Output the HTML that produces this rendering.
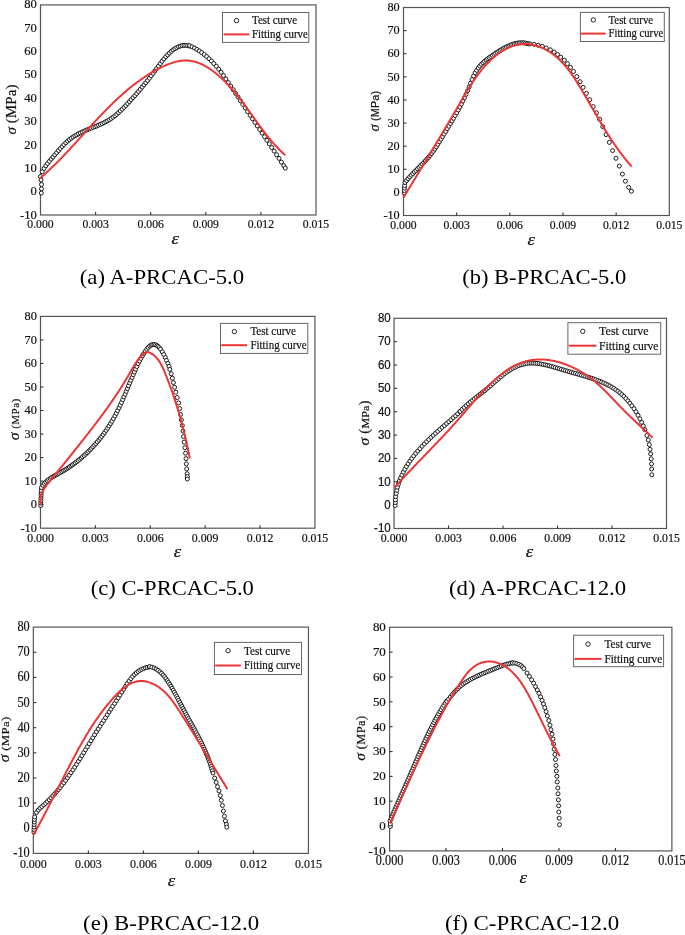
<!DOCTYPE html>
<html><head><meta charset="utf-8"><style>
html,body{margin:0;padding:0;background:#fff;width:685px;height:935px;overflow:hidden}
svg{display:block;will-change:transform}
text{fill:#111;stroke:#111;stroke-width:0.2px}
.cap{stroke:none;fill:#000}
</style></head><body>
<svg width="685" height="935" viewBox="0 0 685 935">
<rect width="685" height="935" fill="#fff"/>
<rect x="40.5" y="4.9" width="275.5" height="210.1" fill="none" stroke="#555" stroke-width="1.2"/>
<line x1="95.6" y1="215" x2="95.6" y2="212" stroke="#333" stroke-width="1.1"/>
<line x1="150.7" y1="215" x2="150.7" y2="212" stroke="#333" stroke-width="1.1"/>
<line x1="205.8" y1="215" x2="205.8" y2="212" stroke="#333" stroke-width="1.1"/>
<line x1="260.9" y1="215" x2="260.9" y2="212" stroke="#333" stroke-width="1.1"/>
<text transform="translate(36.8,218.55) scale(1.0,1)" text-anchor="end" font-family='"Liberation Serif", serif' font-size="12.6">-10</text>
<text transform="translate(36.8,195.21) scale(1.0,1)" text-anchor="end" font-family='"Liberation Serif", serif' font-size="12.6">0</text>
<text transform="translate(36.8,171.86) scale(1.0,1)" text-anchor="end" font-family='"Liberation Serif", serif' font-size="12.6">10</text>
<text transform="translate(36.8,148.52) scale(1.0,1)" text-anchor="end" font-family='"Liberation Serif", serif' font-size="12.6">20</text>
<text transform="translate(36.8,125.17) scale(1.0,1)" text-anchor="end" font-family='"Liberation Serif", serif' font-size="12.6">30</text>
<text transform="translate(36.8,101.83) scale(1.0,1)" text-anchor="end" font-family='"Liberation Serif", serif' font-size="12.6">40</text>
<text transform="translate(36.8,78.49) scale(1.0,1)" text-anchor="end" font-family='"Liberation Serif", serif' font-size="12.6">50</text>
<text transform="translate(36.8,55.14) scale(1.0,1)" text-anchor="end" font-family='"Liberation Serif", serif' font-size="12.6">60</text>
<text transform="translate(36.8,31.8) scale(1.0,1)" text-anchor="end" font-family='"Liberation Serif", serif' font-size="12.6">70</text>
<text transform="translate(36.8,8.45) scale(1.0,1)" text-anchor="end" font-family='"Liberation Serif", serif' font-size="12.6">80</text>
<text transform="translate(40.5,228.2) scale(0.93,1)" text-anchor="middle" font-family='"Liberation Serif", serif' font-size="12.6">0.000</text>
<text transform="translate(95.6,228.2) scale(0.93,1)" text-anchor="middle" font-family='"Liberation Serif", serif' font-size="12.6">0.003</text>
<text transform="translate(150.7,228.2) scale(0.93,1)" text-anchor="middle" font-family='"Liberation Serif", serif' font-size="12.6">0.006</text>
<text transform="translate(205.8,228.2) scale(0.93,1)" text-anchor="middle" font-family='"Liberation Serif", serif' font-size="12.6">0.009</text>
<text transform="translate(260.9,228.2) scale(0.93,1)" text-anchor="middle" font-family='"Liberation Serif", serif' font-size="12.6">0.012</text>
<text transform="translate(316,228.2) scale(0.93,1)" text-anchor="middle" font-family='"Liberation Serif", serif' font-size="12.6">0.015</text>
<text transform="translate(171.4,244.3) scale(1.18,1)" font-family='"Liberation Serif", serif' font-style="italic" font-size="16">ε</text>
<text transform="translate(15.8,134.6) scale(1.0,1) rotate(-90)" textLength="50.1" lengthAdjust="spacing" xml:space="preserve"><tspan font-family='"Liberation Serif", serif' font-size="15" font-style="italic">σ</tspan><tspan font-family='"Liberation Serif", serif' font-size="15"> (MPa)</tspan></text>
<g fill="#fff" stroke="#111" stroke-width="0.95"><circle cx="41.3" cy="193.0" r="2.0"/><circle cx="41.5" cy="188.8" r="2.0"/><circle cx="41.5" cy="184.5" r="2.0"/><circle cx="41.0" cy="180.0" r="2.0"/><circle cx="40.4" cy="176.5" r="2.0"/><circle cx="42.2" cy="171.7" r="2.0"/><circle cx="44.0" cy="168.5" r="2.0"/><circle cx="45.8" cy="165.8" r="2.0"/><circle cx="47.6" cy="163.5" r="2.0"/><circle cx="49.4" cy="161.3" r="2.0"/><circle cx="51.2" cy="159.1" r="2.0"/><circle cx="53.0" cy="157.0" r="2.0"/><circle cx="54.8" cy="154.8" r="2.0"/><circle cx="56.7" cy="152.7" r="2.0"/><circle cx="58.5" cy="150.5" r="2.0"/><circle cx="60.3" cy="148.5" r="2.0"/><circle cx="62.1" cy="146.5" r="2.0"/><circle cx="63.9" cy="144.6" r="2.0"/><circle cx="65.8" cy="142.8" r="2.0"/><circle cx="67.6" cy="141.1" r="2.0"/><circle cx="69.4" cy="139.6" r="2.0"/><circle cx="71.2" cy="138.2" r="2.0"/><circle cx="73.0" cy="137.0" r="2.0"/><circle cx="74.9" cy="135.8" r="2.0"/><circle cx="76.7" cy="134.8" r="2.0"/><circle cx="78.5" cy="133.8" r="2.0"/><circle cx="80.3" cy="132.9" r="2.0"/><circle cx="82.1" cy="132.0" r="2.0"/><circle cx="84.0" cy="131.2" r="2.0"/><circle cx="85.8" cy="130.4" r="2.0"/><circle cx="87.6" cy="129.6" r="2.0"/><circle cx="89.4" cy="128.9" r="2.0"/><circle cx="91.2" cy="128.2" r="2.0"/><circle cx="93.1" cy="127.4" r="2.0"/><circle cx="94.9" cy="126.7" r="2.0"/><circle cx="96.7" cy="126.0" r="2.0"/><circle cx="98.5" cy="125.2" r="2.0"/><circle cx="100.3" cy="124.4" r="2.0"/><circle cx="102.1" cy="123.6" r="2.0"/><circle cx="104.0" cy="122.7" r="2.0"/><circle cx="105.8" cy="121.7" r="2.0"/><circle cx="107.6" cy="120.8" r="2.0"/><circle cx="109.4" cy="119.7" r="2.0"/><circle cx="111.2" cy="118.5" r="2.0"/><circle cx="113.0" cy="117.2" r="2.0"/><circle cx="114.9" cy="115.8" r="2.0"/><circle cx="116.7" cy="114.3" r="2.0"/><circle cx="118.5" cy="112.7" r="2.0"/><circle cx="120.3" cy="111.0" r="2.0"/><circle cx="122.2" cy="109.2" r="2.0"/><circle cx="124.0" cy="107.4" r="2.0"/><circle cx="125.8" cy="105.5" r="2.0"/><circle cx="127.6" cy="103.6" r="2.0"/><circle cx="129.4" cy="101.6" r="2.0"/><circle cx="131.2" cy="99.6" r="2.0"/><circle cx="133.0" cy="97.6" r="2.0"/><circle cx="134.9" cy="95.6" r="2.0"/><circle cx="136.7" cy="93.5" r="2.0"/><circle cx="138.5" cy="91.4" r="2.0"/><circle cx="140.3" cy="89.3" r="2.0"/><circle cx="142.1" cy="87.1" r="2.0"/><circle cx="143.9" cy="84.9" r="2.0"/><circle cx="145.8" cy="82.7" r="2.0"/><circle cx="147.6" cy="80.5" r="2.0"/><circle cx="149.4" cy="78.2" r="2.0"/><circle cx="151.2" cy="75.8" r="2.0"/><circle cx="153.0" cy="73.4" r="2.0"/><circle cx="154.8" cy="71.0" r="2.0"/><circle cx="156.7" cy="68.5" r="2.0"/><circle cx="158.5" cy="66.1" r="2.0"/><circle cx="160.3" cy="63.6" r="2.0"/><circle cx="162.1" cy="61.2" r="2.0"/><circle cx="163.9" cy="58.9" r="2.0"/><circle cx="165.8" cy="56.8" r="2.0"/><circle cx="167.6" cy="54.9" r="2.0"/><circle cx="169.4" cy="53.1" r="2.0"/><circle cx="171.2" cy="51.4" r="2.0"/><circle cx="173.0" cy="49.9" r="2.0"/><circle cx="174.9" cy="48.7" r="2.0"/><circle cx="176.7" cy="47.6" r="2.0"/><circle cx="178.5" cy="46.7" r="2.0"/><circle cx="180.3" cy="46.1" r="2.0"/><circle cx="182.1" cy="45.6" r="2.0"/><circle cx="184.0" cy="45.4" r="2.0"/><circle cx="185.8" cy="45.4" r="2.0"/><circle cx="187.6" cy="45.6" r="2.0"/><circle cx="189.4" cy="46.0" r="2.0"/><circle cx="189.6" cy="45.7" r="2.0"/><circle cx="192.0" cy="46.8" r="2.0"/><circle cx="194.4" cy="48.0" r="2.0"/><circle cx="196.9" cy="49.4" r="2.0"/><circle cx="199.3" cy="50.9" r="2.0"/><circle cx="201.7" cy="52.6" r="2.0"/><circle cx="204.2" cy="54.5" r="2.0"/><circle cx="206.6" cy="56.5" r="2.0"/><circle cx="209.0" cy="58.7" r="2.0"/><circle cx="211.4" cy="61.0" r="2.0"/><circle cx="213.8" cy="63.6" r="2.0"/><circle cx="216.3" cy="66.3" r="2.0"/><circle cx="218.7" cy="69.2" r="2.0"/><circle cx="221.1" cy="72.3" r="2.0"/><circle cx="223.5" cy="75.6" r="2.0"/><circle cx="225.9" cy="79.0" r="2.0"/><circle cx="228.3" cy="82.5" r="2.0"/><circle cx="230.7" cy="86.1" r="2.0"/><circle cx="233.2" cy="89.7" r="2.0"/><circle cx="235.6" cy="93.4" r="2.0"/><circle cx="238.0" cy="97.0" r="2.0"/><circle cx="240.4" cy="100.7" r="2.0"/><circle cx="242.8" cy="104.3" r="2.0"/><circle cx="245.2" cy="107.9" r="2.0"/><circle cx="247.6" cy="111.6" r="2.0"/><circle cx="250.1" cy="115.2" r="2.0"/><circle cx="252.5" cy="118.8" r="2.0"/><circle cx="254.9" cy="122.4" r="2.0"/><circle cx="257.3" cy="125.9" r="2.0"/><circle cx="259.7" cy="129.5" r="2.0"/><circle cx="262.1" cy="133.1" r="2.0"/><circle cx="264.5" cy="136.7" r="2.0"/><circle cx="266.9" cy="140.3" r="2.0"/><circle cx="269.3" cy="143.9" r="2.0"/><circle cx="271.7" cy="147.5" r="2.0"/><circle cx="274.1" cy="151.1" r="2.0"/><circle cx="276.6" cy="154.8" r="2.0"/><circle cx="279.0" cy="158.4" r="2.0"/><circle cx="281.4" cy="162.1" r="2.0"/><circle cx="283.8" cy="165.7" r="2.0"/><circle cx="285.3" cy="168.1" r="2.0"/></g>
<path d="M39.8 178.4 L40.4 177.9 L41.0 177.4 L41.6 176.9 L42.3 176.3 L42.9 175.8 L43.5 175.3 L44.1 174.7 L44.7 174.2 L45.3 173.7 L45.8 173.1 L46.4 172.6 L47.0 172.0 L47.6 171.5 L48.2 171.0 L48.8 170.4 L49.4 169.9 L50.0 169.3 L50.5 168.8 L51.1 168.2 L51.7 167.6 L52.3 167.1 L52.9 166.5 L53.4 166.0 L54.0 165.4 L54.6 164.9 L55.2 164.3 L55.7 163.7 L56.3 163.2 L56.9 162.6 L57.4 162.0 L58.0 161.5 L58.6 160.9 L59.1 160.3 L59.7 159.7 L60.2 159.2 L60.8 158.6 L61.4 158.0 L61.9 157.4 L62.5 156.9 L63.0 156.3 L63.6 155.7 L64.1 155.1 L64.7 154.5 L65.2 154.0 L65.8 153.4 L66.3 152.8 L66.9 152.2 L67.4 151.6 L68.0 151.0 L68.5 150.5 L69.1 149.9 L69.6 149.3 L70.2 148.7 L70.7 148.1 L71.3 147.5 L71.8 146.9 L72.3 146.3 L72.9 145.7 L73.4 145.2 L74.0 144.6 L74.5 144.0 L75.1 143.4 L75.6 142.8 L76.1 142.2 L76.7 141.6 L77.2 141.0 L77.8 140.4 L78.3 139.8 L78.8 139.2 L79.4 138.6 L79.9 138.0 L80.5 137.4 L81.0 136.9 L81.5 136.3 L82.1 135.7 L82.6 135.1 L83.2 134.5 L83.7 133.9 L84.2 133.3 L84.8 132.7 L85.3 132.1 L85.9 131.5 L86.4 130.9 L86.9 130.3 L87.5 129.7 L88.0 129.1 L88.6 128.5 L89.1 127.9 L89.6 127.4 L90.2 126.8 L90.7 126.2 L91.3 125.6 L91.8 125.0 L92.3 124.4 L92.9 123.8 L93.4 123.2 L94.0 122.6 L94.5 122.0 L95.1 121.5 L95.6 120.9 L96.2 120.3 L96.7 119.7 L97.3 119.1 L97.8 118.5 L98.4 117.9 L98.9 117.4 L99.5 116.8 L100.0 116.2 L100.6 115.6 L101.1 115.0 L101.7 114.4 L102.2 113.9 L102.8 113.3 L103.3 112.7 L103.9 112.1 L104.4 111.6 L105.0 111.0 L105.6 110.4 L106.1 109.8 L106.7 109.3 L107.3 108.7 L107.8 108.1 L108.4 107.6 L109.0 107.0 L109.5 106.4 L110.1 105.9 L110.7 105.3 L111.2 104.7 L111.8 104.2 L112.4 103.6 L113.0 103.0 L113.5 102.5 L114.1 101.9 L114.7 101.4 L115.3 100.8 L115.9 100.3 L116.4 99.7 L117.0 99.2 L117.6 98.6 L118.2 98.1 L118.8 97.5 L119.4 97.0 L120.0 96.5 L120.6 95.9 L121.2 95.4 L121.8 94.9 L122.4 94.3 L123.0 93.8 L123.6 93.3 L124.2 92.7 L124.8 92.2 L125.4 91.7 L126.0 91.2 L126.6 90.6 L127.2 90.1 L127.8 89.6 L128.4 89.1 L129.1 88.6 L129.7 88.1 L130.3 87.6 L130.9 87.1 L131.6 86.6 L132.2 86.1 L132.8 85.6 L133.4 85.1 L134.1 84.6 L134.7 84.1 L135.4 83.6 L136.0 83.1 L136.6 82.6 L137.3 82.2 L137.9 81.7 L138.6 81.2 L139.2 80.7 L139.9 80.3 L140.5 79.8 L141.2 79.3 L141.8 78.9 L142.5 78.4 L143.2 78.0 L143.8 77.5 L144.5 77.1 L145.2 76.6 L145.8 76.2 L146.5 75.8 L147.2 75.3 L147.9 74.9 L148.5 74.5 L149.2 74.0 L149.9 73.6 L150.6 73.2 L151.3 72.8 L152.0 72.4 L152.7 72.0 L153.3 71.6 L154.0 71.2 L154.7 70.8 L155.4 70.4 L156.1 70.0 L156.8 69.6 L157.6 69.2 L158.3 68.9 L159.0 68.5 L159.7 68.1 L160.4 67.8 L161.1 67.4 L161.8 67.1 L162.6 66.7 L163.3 66.4 L164.0 66.0 L164.8 65.7 L165.5 65.4 L166.2 65.1 L167.0 64.8 L167.7 64.5 L168.5 64.2 L169.2 63.9 L170.0 63.6 L170.7 63.3 L171.5 63.1 L172.2 62.8 L173.0 62.6 L173.8 62.4 L174.5 62.1 L175.3 61.9 L176.1 61.7 L176.9 61.6 L177.7 61.4 L178.4 61.2 L179.2 61.1 L180.0 61.0 L180.8 60.8 L181.6 60.7 L182.4 60.7 L183.2 60.6 L184.0 60.5 L184.8 60.5 L185.6 60.5 L186.4 60.5 L187.2 60.5 L188.0 60.6 L188.8 60.6 L189.6 60.7 L190.4 60.8 L191.2 60.9 L192.0 61.1 L192.8 61.2 L193.6 61.4 L194.3 61.6 L195.1 61.8 L195.9 62.0 L196.7 62.3 L197.4 62.5 L198.2 62.8 L198.9 63.1 L199.7 63.4 L200.4 63.7 L201.1 64.0 L201.9 64.3 L202.6 64.7 L203.3 65.0 L204.0 65.4 L204.7 65.8 L205.4 66.2 L206.1 66.6 L206.8 67.0 L207.5 67.4 L208.2 67.8 L208.9 68.2 L209.5 68.7 L210.2 69.1 L210.9 69.6 L211.5 70.0 L212.2 70.5 L212.8 71.0 L213.5 71.5 L214.1 72.0 L214.7 72.4 L215.4 72.9 L216.0 73.4 L216.6 74.0 L217.2 74.5 L217.8 75.0 L218.5 75.5 L219.1 76.0 L219.7 76.6 L220.3 77.1 L220.9 77.6 L221.4 78.2 L222.0 78.7 L222.6 79.3 L223.2 79.8 L223.8 80.4 L224.3 81.0 L224.9 81.5 L225.5 82.1 L226.0 82.7 L226.6 83.2 L227.2 83.8 L227.7 84.4 L228.3 85.0 L228.8 85.6 L229.4 86.1 L229.9 86.7 L230.4 87.3 L231.0 87.9 L231.5 88.5 L232.0 89.1 L232.6 89.7 L233.1 90.3 L233.6 91.0 L234.1 91.6 L234.6 92.2 L235.2 92.8 L235.7 93.4 L236.2 94.0 L236.7 94.7 L237.2 95.3 L237.7 95.9 L238.2 96.5 L238.7 97.2 L239.2 97.8 L239.7 98.4 L240.2 99.1 L240.7 99.7 L241.1 100.3 L241.6 101.0 L242.1 101.6 L242.6 102.2 L243.1 102.9 L243.6 103.5 L244.0 104.2 L244.5 104.8 L245.0 105.5 L245.5 106.1 L245.9 106.8 L246.4 107.4 L246.9 108.1 L247.4 108.7 L247.8 109.4 L248.3 110.0 L248.8 110.7 L249.2 111.3 L249.7 112.0 L250.2 112.6 L250.6 113.3 L251.1 113.9 L251.6 114.6 L252.0 115.2 L252.5 115.9 L253.0 116.5 L253.4 117.2 L253.9 117.8 L254.4 118.5 L254.8 119.1 L255.3 119.8 L255.7 120.5 L256.2 121.1 L256.7 121.8 L257.1 122.4 L257.6 123.1 L258.1 123.7 L258.6 124.4 L259.0 125.0 L259.5 125.7 L260.0 126.3 L260.4 127.0 L260.9 127.6 L261.4 128.2 L261.9 128.9 L262.4 129.5 L262.8 130.2 L263.3 130.8 L263.8 131.5 L264.3 132.1 L264.8 132.7 L265.3 133.4 L265.8 134.0 L266.2 134.6 L266.7 135.3 L267.2 135.9 L267.7 136.5 L268.2 137.1 L268.7 137.8 L269.3 138.4 L269.8 139.0 L270.3 139.6 L270.8 140.2 L271.3 140.9 L271.8 141.5 L272.4 142.1 L272.9 142.7 L273.4 143.3 L273.9 143.9 L274.5 144.5 L275.0 145.1 L275.6 145.7 L276.1 146.3 L276.6 146.8 L277.2 147.4 L277.8 148.0 L278.3 148.6 L278.9 149.2 L279.4 149.7 L280.0 150.3 L280.6 150.9 L281.2 151.4 L281.7 152.0 L282.3 152.5 L282.9 153.1 L283.5 153.6 L284.1 154.1 L284.7 154.7 L285.3 155.2" fill="none" stroke="#ee3535" stroke-width="2.0" stroke-linejoin="round" stroke-linecap="butt"/>
<rect x="222.5" y="12.5" width="86.3" height="29.9" fill="#fff" stroke="#666" stroke-width="1"/>
<circle cx="236.5" cy="20.6" r="2.2" fill="#fff" stroke="#111" stroke-width="0.9"/>
<line x1="223.6" y1="34.4" x2="249.3" y2="34.4" stroke="#ee3535" stroke-width="2"/>
<text x="252" y="24.3" font-family='"Liberation Serif", serif' font-size="12.3" textLength="45" lengthAdjust="spacingAndGlyphs">Test curve</text>
<text x="252" y="37.9" font-family='"Liberation Serif", serif' font-size="12.3" textLength="55.8" lengthAdjust="spacingAndGlyphs">Fitting curve</text>
<text class="cap" x="79.7" y="283.7" font-family='"Liberation Serif", serif' font-size="22" textLength="164.5" lengthAdjust="spacingAndGlyphs">(a) A-PRCAC-5.0</text>
<rect x="403.5" y="7.5" width="265.8" height="208" fill="none" stroke="#555" stroke-width="1.2"/>
<line x1="456.66" y1="215.5" x2="456.66" y2="212.5" stroke="#333" stroke-width="1.1"/>
<line x1="509.82" y1="215.5" x2="509.82" y2="212.5" stroke="#333" stroke-width="1.1"/>
<line x1="562.98" y1="215.5" x2="562.98" y2="212.5" stroke="#333" stroke-width="1.1"/>
<line x1="616.14" y1="215.5" x2="616.14" y2="212.5" stroke="#333" stroke-width="1.1"/>
<line x1="403.5" y1="192.39" x2="406.5" y2="192.39" stroke="#333" stroke-width="1.1"/>
<line x1="403.5" y1="169.28" x2="406.5" y2="169.28" stroke="#333" stroke-width="1.1"/>
<line x1="403.5" y1="146.17" x2="406.5" y2="146.17" stroke="#333" stroke-width="1.1"/>
<line x1="403.5" y1="123.06" x2="406.5" y2="123.06" stroke="#333" stroke-width="1.1"/>
<line x1="403.5" y1="99.94" x2="406.5" y2="99.94" stroke="#333" stroke-width="1.1"/>
<line x1="403.5" y1="76.83" x2="406.5" y2="76.83" stroke="#333" stroke-width="1.1"/>
<line x1="403.5" y1="53.72" x2="406.5" y2="53.72" stroke="#333" stroke-width="1.1"/>
<line x1="403.5" y1="30.61" x2="406.5" y2="30.61" stroke="#333" stroke-width="1.1"/>
<text transform="translate(399.7,219.19) scale(0.94,1)" text-anchor="end" font-family='"Liberation Serif", serif' font-size="13.0">-10</text>
<text transform="translate(399.7,196.08) scale(0.94,1)" text-anchor="end" font-family='"Liberation Serif", serif' font-size="13.0">0</text>
<text transform="translate(399.7,172.97) scale(0.94,1)" text-anchor="end" font-family='"Liberation Serif", serif' font-size="13.0">10</text>
<text transform="translate(399.7,149.85) scale(0.94,1)" text-anchor="end" font-family='"Liberation Serif", serif' font-size="13.0">20</text>
<text transform="translate(399.7,126.74) scale(0.94,1)" text-anchor="end" font-family='"Liberation Serif", serif' font-size="13.0">30</text>
<text transform="translate(399.7,103.63) scale(0.94,1)" text-anchor="end" font-family='"Liberation Serif", serif' font-size="13.0">40</text>
<text transform="translate(399.7,80.52) scale(0.94,1)" text-anchor="end" font-family='"Liberation Serif", serif' font-size="13.0">50</text>
<text transform="translate(399.7,57.41) scale(0.94,1)" text-anchor="end" font-family='"Liberation Serif", serif' font-size="13.0">60</text>
<text transform="translate(399.7,34.3) scale(0.94,1)" text-anchor="end" font-family='"Liberation Serif", serif' font-size="13.0">70</text>
<text transform="translate(399.7,11.19) scale(0.94,1)" text-anchor="end" font-family='"Liberation Serif", serif' font-size="13.0">80</text>
<text transform="translate(403.5,228.8) scale(0.95,1)" text-anchor="middle" font-family='"Liberation Serif", serif' font-size="12.3">0.000</text>
<text transform="translate(456.66,228.8) scale(0.95,1)" text-anchor="middle" font-family='"Liberation Serif", serif' font-size="12.3">0.003</text>
<text transform="translate(509.82,228.8) scale(0.95,1)" text-anchor="middle" font-family='"Liberation Serif", serif' font-size="12.3">0.006</text>
<text transform="translate(562.98,228.8) scale(0.95,1)" text-anchor="middle" font-family='"Liberation Serif", serif' font-size="12.3">0.009</text>
<text transform="translate(616.14,228.8) scale(0.95,1)" text-anchor="middle" font-family='"Liberation Serif", serif' font-size="12.3">0.012</text>
<text transform="translate(669.3,228.8) scale(0.95,1)" text-anchor="middle" font-family='"Liberation Serif", serif' font-size="12.3">0.015</text>
<text transform="translate(527.5,244.7) scale(1.18,1)" font-family='"Liberation Serif", serif' font-style="italic" font-size="16">ε</text>
<text transform="translate(379.2,131.5) scale(0.94,1) rotate(-90)" textLength="40.6" lengthAdjust="spacing" xml:space="preserve"><tspan font-family='"Liberation Serif", serif' font-size="14.5" font-style="italic">σ</tspan><tspan font-family='"Liberation Sans", sans-serif' font-size="10.8"> (MPa)</tspan></text>
<g fill="#fff" stroke="#111" stroke-width="0.95"><circle cx="404.2" cy="193.0" r="2.0"/><circle cx="404.3" cy="190.5" r="2.0"/><circle cx="404.4" cy="188.0" r="2.0"/><circle cx="404.6" cy="185.5" r="2.0"/><circle cx="405.0" cy="182.5" r="2.0"/><circle cx="406.6" cy="180.5" r="2.0"/><circle cx="408.1" cy="178.6" r="2.0"/><circle cx="409.7" cy="176.9" r="2.0"/><circle cx="411.3" cy="175.2" r="2.0"/><circle cx="412.8" cy="173.6" r="2.0"/><circle cx="414.4" cy="171.9" r="2.0"/><circle cx="415.9" cy="170.4" r="2.0"/><circle cx="417.5" cy="168.8" r="2.0"/><circle cx="419.1" cy="167.3" r="2.0"/><circle cx="420.6" cy="165.7" r="2.0"/><circle cx="422.2" cy="164.2" r="2.0"/><circle cx="423.8" cy="162.6" r="2.0"/><circle cx="425.3" cy="160.9" r="2.0"/><circle cx="426.9" cy="159.2" r="2.0"/><circle cx="428.5" cy="157.4" r="2.0"/><circle cx="430.0" cy="155.5" r="2.0"/><circle cx="431.6" cy="153.5" r="2.0"/><circle cx="433.2" cy="151.3" r="2.0"/><circle cx="434.7" cy="149.1" r="2.0"/><circle cx="436.3" cy="146.8" r="2.0"/><circle cx="437.8" cy="144.3" r="2.0"/><circle cx="439.4" cy="141.8" r="2.0"/><circle cx="441.0" cy="139.3" r="2.0"/><circle cx="442.5" cy="136.7" r="2.0"/><circle cx="444.1" cy="134.1" r="2.0"/><circle cx="445.7" cy="131.5" r="2.0"/><circle cx="447.3" cy="128.8" r="2.0"/><circle cx="448.8" cy="126.2" r="2.0"/><circle cx="450.4" cy="123.6" r="2.0"/><circle cx="452.0" cy="121.0" r="2.0"/><circle cx="453.5" cy="118.3" r="2.0"/><circle cx="455.1" cy="115.5" r="2.0"/><circle cx="456.7" cy="112.8" r="2.0"/><circle cx="458.2" cy="110.0" r="2.0"/><circle cx="459.8" cy="107.1" r="2.0"/><circle cx="461.3" cy="104.1" r="2.0"/><circle cx="462.9" cy="101.0" r="2.0"/><circle cx="464.4" cy="97.7" r="2.0"/><circle cx="466.0" cy="94.3" r="2.0"/><circle cx="467.6" cy="90.7" r="2.0"/><circle cx="469.1" cy="87.0" r="2.0"/><circle cx="470.5" cy="83.2" r="2.0"/><circle cx="472.0" cy="79.5" r="2.0"/><circle cx="473.6" cy="76.0" r="2.0"/><circle cx="475.1" cy="72.9" r="2.0"/><circle cx="476.7" cy="70.3" r="2.0"/><circle cx="478.3" cy="68.0" r="2.0"/><circle cx="479.8" cy="66.1" r="2.0"/><circle cx="481.4" cy="64.3" r="2.0"/><circle cx="483.0" cy="62.8" r="2.0"/><circle cx="484.5" cy="61.3" r="2.0"/><circle cx="486.1" cy="60.0" r="2.0"/><circle cx="487.7" cy="58.8" r="2.0"/><circle cx="489.2" cy="57.6" r="2.0"/><circle cx="490.8" cy="56.5" r="2.0"/><circle cx="492.4" cy="55.4" r="2.0"/><circle cx="494.0" cy="54.4" r="2.0"/><circle cx="495.5" cy="53.3" r="2.0"/><circle cx="497.1" cy="52.3" r="2.0"/><circle cx="498.7" cy="51.3" r="2.0"/><circle cx="500.2" cy="50.3" r="2.0"/><circle cx="501.8" cy="49.4" r="2.0"/><circle cx="503.4" cy="48.5" r="2.0"/><circle cx="504.9" cy="47.6" r="2.0"/><circle cx="506.5" cy="46.9" r="2.0"/><circle cx="508.1" cy="46.1" r="2.0"/><circle cx="509.7" cy="45.4" r="2.0"/><circle cx="511.2" cy="44.8" r="2.0"/><circle cx="512.8" cy="44.3" r="2.0"/><circle cx="514.4" cy="43.8" r="2.0"/><circle cx="516.0" cy="43.4" r="2.0"/><circle cx="517.5" cy="43.1" r="2.0"/><circle cx="519.1" cy="42.9" r="2.0"/><circle cx="520.7" cy="42.8" r="2.0"/><circle cx="522.3" cy="42.8" r="2.0"/><circle cx="523.8" cy="42.9" r="2.0"/><circle cx="525.4" cy="43.1" r="2.0"/><circle cx="527.0" cy="43.5" r="2.0"/><circle cx="528.4" cy="43.8" r="2.0"/><circle cx="530.0" cy="43.9" r="2.0"/><circle cx="534.1" cy="44.3" r="2.0"/><circle cx="538.2" cy="45.3" r="2.0"/><circle cx="542.3" cy="46.3" r="2.0"/><circle cx="546.3" cy="48.0" r="2.0"/><circle cx="550.4" cy="49.8" r="2.0"/><circle cx="554.1" cy="52.1" r="2.0"/><circle cx="557.6" cy="54.5" r="2.0"/><circle cx="560.7" cy="57.2" r="2.0"/><circle cx="564.3" cy="60.2" r="2.0"/><circle cx="567.4" cy="63.7" r="2.0"/><circle cx="570.5" cy="67.4" r="2.0"/><circle cx="573.5" cy="71.5" r="2.0"/><circle cx="576.8" cy="76.6" r="2.0"/><circle cx="580.1" cy="81.7" r="2.0"/><circle cx="583.1" cy="87.4" r="2.0"/><circle cx="586.4" cy="93.4" r="2.0"/><circle cx="589.7" cy="99.7" r="2.0"/><circle cx="593.2" cy="106.6" r="2.0"/><circle cx="596.4" cy="112.8" r="2.0"/><circle cx="599.7" cy="119.3" r="2.0"/><circle cx="602.8" cy="126.7" r="2.0"/><circle cx="606.0" cy="134.6" r="2.0"/><circle cx="609.3" cy="142.4" r="2.0"/><circle cx="612.6" cy="150.6" r="2.0"/><circle cx="616.0" cy="158.3" r="2.0"/><circle cx="619.3" cy="166.1" r="2.0"/><circle cx="622.4" cy="174.1" r="2.0"/><circle cx="625.4" cy="181.2" r="2.0"/><circle cx="628.7" cy="187.4" r="2.0"/><circle cx="631.4" cy="191.2" r="2.0"/></g>
<path d="M403.3 197.7 L403.7 197.1 L404.2 196.4 L404.6 195.7 L405.0 195.0 L405.4 194.3 L405.8 193.6 L406.2 192.9 L406.7 192.3 L407.1 191.6 L407.5 190.9 L407.9 190.2 L408.3 189.5 L408.7 188.8 L409.2 188.2 L409.6 187.5 L410.0 186.8 L410.4 186.1 L410.8 185.4 L411.2 184.7 L411.7 184.0 L412.1 183.4 L412.5 182.7 L412.9 182.0 L413.3 181.3 L413.7 180.6 L414.2 179.9 L414.6 179.2 L415.0 178.6 L415.4 177.9 L415.8 177.2 L416.2 176.5 L416.7 175.8 L417.1 175.1 L417.5 174.4 L417.9 173.8 L418.3 173.1 L418.7 172.4 L419.2 171.7 L419.6 171.0 L420.0 170.3 L420.4 169.6 L420.8 169.0 L421.2 168.3 L421.7 167.6 L422.1 166.9 L422.5 166.2 L422.9 165.5 L423.3 164.8 L423.7 164.2 L424.1 163.5 L424.6 162.8 L425.0 162.1 L425.4 161.4 L425.8 160.7 L426.2 160.0 L426.6 159.4 L427.0 158.7 L427.5 158.0 L427.9 157.3 L428.3 156.6 L428.7 155.9 L429.1 155.2 L429.5 154.5 L429.9 153.9 L430.4 153.2 L430.8 152.5 L431.2 151.8 L431.6 151.1 L432.0 150.4 L432.4 149.7 L432.8 149.0 L433.3 148.4 L433.7 147.7 L434.1 147.0 L434.5 146.3 L434.9 145.6 L435.3 144.9 L435.7 144.2 L436.1 143.5 L436.5 142.9 L437.0 142.2 L437.4 141.5 L437.8 140.8 L438.2 140.1 L438.6 139.4 L439.0 138.7 L439.4 138.0 L439.8 137.3 L440.2 136.7 L440.7 136.0 L441.1 135.3 L441.5 134.6 L441.9 133.9 L442.3 133.2 L442.7 132.5 L443.1 131.8 L443.5 131.1 L443.9 130.5 L444.3 129.8 L444.8 129.1 L445.2 128.4 L445.6 127.7 L446.0 127.0 L446.4 126.3 L446.8 125.6 L447.2 124.9 L447.6 124.2 L448.0 123.6 L448.4 122.9 L448.8 122.2 L449.2 121.5 L449.6 120.8 L450.1 120.1 L450.5 119.4 L450.9 118.7 L451.3 118.0 L451.7 117.3 L452.1 116.6 L452.5 116.0 L452.9 115.3 L453.3 114.6 L453.7 113.9 L454.1 113.2 L454.5 112.5 L454.9 111.8 L455.3 111.1 L455.7 110.4 L456.1 109.7 L456.5 109.0 L456.9 108.3 L457.3 107.6 L457.7 106.9 L458.2 106.3 L458.6 105.6 L459.0 104.9 L459.4 104.2 L459.8 103.5 L460.2 102.8 L460.6 102.1 L461.0 101.4 L461.4 100.7 L461.8 100.0 L462.2 99.3 L462.6 98.6 L463.0 97.9 L463.4 97.2 L463.8 96.5 L464.2 95.9 L464.6 95.2 L465.0 94.5 L465.4 93.8 L465.8 93.1 L466.2 92.4 L466.7 91.7 L467.1 91.0 L467.5 90.3 L467.9 89.7 L468.3 89.0 L468.7 88.3 L469.2 87.6 L469.6 86.9 L470.0 86.3 L470.4 85.6 L470.9 84.9 L471.3 84.2 L471.7 83.6 L472.2 82.9 L472.6 82.2 L473.1 81.5 L473.5 80.9 L474.0 80.2 L474.4 79.5 L474.9 78.9 L475.3 78.2 L475.8 77.6 L476.2 76.9 L476.7 76.3 L477.2 75.6 L477.7 75.0 L478.1 74.3 L478.6 73.7 L479.1 73.0 L479.6 72.4 L480.1 71.8 L480.6 71.1 L481.1 70.5 L481.6 69.9 L482.1 69.3 L482.6 68.7 L483.1 68.0 L483.6 67.4 L484.2 66.8 L484.7 66.2 L485.2 65.6 L485.8 65.0 L486.3 64.5 L486.9 63.9 L487.4 63.3 L488.0 62.7 L488.6 62.1 L489.1 61.6 L489.7 61.0 L490.3 60.5 L490.9 59.9 L491.4 59.4 L492.0 58.8 L492.6 58.3 L493.2 57.8 L493.9 57.2 L494.5 56.7 L495.1 56.2 L495.7 55.7 L496.3 55.2 L497.0 54.7 L497.6 54.3 L498.3 53.8 L498.9 53.3 L499.6 52.8 L500.2 52.4 L500.9 51.9 L501.6 51.5 L502.2 51.1 L502.9 50.7 L503.6 50.2 L504.3 49.8 L505.0 49.5 L505.7 49.1 L506.4 48.7 L507.1 48.3 L507.9 48.0 L508.6 47.6 L509.3 47.3 L510.1 47.0 L510.8 46.7 L511.5 46.4 L512.3 46.1 L513.1 45.9 L513.8 45.6 L514.6 45.4 L515.4 45.1 L516.1 44.9 L516.9 44.8 L517.7 44.6 L518.5 44.4 L519.3 44.3 L520.1 44.2 L520.9 44.1 L521.7 44.0 L522.4 43.9 L523.2 43.9 L524.1 43.8 L524.9 43.8 L525.7 43.8 L526.5 43.9 L527.3 43.9 L528.1 44.0 L528.9 44.0 L529.7 44.1 L530.4 44.3 L531.2 44.4 L532.0 44.5 L532.8 44.7 L533.6 44.9 L534.4 45.1 L535.1 45.3 L535.9 45.5 L536.7 45.7 L537.4 46.0 L538.2 46.2 L539.0 46.5 L539.7 46.8 L540.5 47.1 L541.2 47.4 L541.9 47.7 L542.7 48.0 L543.4 48.4 L544.1 48.7 L544.8 49.1 L545.5 49.5 L546.2 49.9 L546.9 50.2 L547.6 50.6 L548.3 51.1 L549.0 51.5 L549.7 51.9 L550.4 52.4 L551.0 52.8 L551.7 53.3 L552.3 53.7 L553.0 54.2 L553.6 54.7 L554.3 55.2 L554.9 55.7 L555.5 56.2 L556.1 56.7 L556.7 57.2 L557.3 57.7 L557.9 58.3 L558.5 58.8 L559.1 59.3 L559.7 59.9 L560.3 60.5 L560.8 61.0 L561.4 61.6 L562.0 62.2 L562.5 62.7 L563.1 63.3 L563.6 63.9 L564.1 64.5 L564.7 65.1 L565.2 65.7 L565.7 66.3 L566.2 67.0 L566.7 67.6 L567.2 68.2 L567.7 68.8 L568.2 69.5 L568.7 70.1 L569.2 70.7 L569.7 71.4 L570.2 72.0 L570.6 72.7 L571.1 73.3 L571.6 74.0 L572.0 74.6 L572.5 75.3 L572.9 76.0 L573.4 76.6 L573.8 77.3 L574.3 78.0 L574.7 78.6 L575.2 79.3 L575.6 80.0 L576.0 80.6 L576.5 81.3 L576.9 82.0 L577.3 82.7 L577.7 83.4 L578.2 84.0 L578.6 84.7 L579.0 85.4 L579.4 86.1 L579.8 86.8 L580.2 87.5 L580.7 88.2 L581.1 88.8 L581.5 89.5 L581.9 90.2 L582.3 90.9 L582.7 91.6 L583.1 92.3 L583.5 93.0 L583.9 93.7 L584.3 94.4 L584.7 95.1 L585.1 95.8 L585.5 96.4 L585.9 97.1 L586.3 97.8 L586.7 98.5 L587.2 99.2 L587.6 99.9 L588.0 100.6 L588.4 101.3 L588.8 102.0 L589.2 102.7 L589.6 103.4 L590.0 104.1 L590.4 104.8 L590.8 105.5 L591.2 106.2 L591.6 106.9 L592.0 107.6 L592.4 108.3 L592.8 108.9 L593.2 109.6 L593.6 110.3 L594.0 111.0 L594.4 111.7 L594.8 112.4 L595.2 113.1 L595.6 113.8 L596.0 114.5 L596.4 115.2 L596.8 115.9 L597.2 116.6 L597.6 117.3 L598.0 118.0 L598.4 118.7 L598.8 119.4 L599.2 120.0 L599.6 120.7 L600.0 121.4 L600.4 122.1 L600.8 122.8 L601.2 123.5 L601.6 124.2 L602.1 124.9 L602.5 125.6 L602.9 126.2 L603.3 126.9 L603.7 127.6 L604.1 128.3 L604.6 129.0 L605.0 129.7 L605.4 130.4 L605.8 131.0 L606.2 131.7 L606.7 132.4 L607.1 133.1 L607.5 133.8 L607.9 134.4 L608.4 135.1 L608.8 135.8 L609.2 136.5 L609.7 137.1 L610.1 137.8 L610.5 138.5 L611.0 139.2 L611.4 139.8 L611.9 140.5 L612.3 141.2 L612.8 141.8 L613.2 142.5 L613.7 143.2 L614.1 143.8 L614.6 144.5 L615.0 145.1 L615.5 145.8 L615.9 146.5 L616.4 147.1 L616.9 147.8 L617.3 148.4 L617.8 149.1 L618.3 149.7 L618.7 150.4 L619.2 151.0 L619.7 151.7 L620.1 152.3 L620.6 153.0 L621.1 153.6 L621.6 154.2 L622.1 154.9 L622.6 155.5 L623.1 156.1 L623.5 156.8 L624.0 157.4 L624.5 158.0 L625.0 158.7 L625.5 159.3 L626.0 159.9 L626.5 160.5 L627.1 161.2 L627.6 161.8 L628.1 162.4 L628.6 163.0 L629.1 163.6 L629.6 164.2 L630.2 164.8 L630.7 165.4 L631.2 166.1 L631.7 166.7" fill="none" stroke="#ee3535" stroke-width="2.0" stroke-linejoin="round" stroke-linecap="butt"/>
<rect x="580.4" y="12.4" width="83.9" height="29.1" fill="#fff" stroke="#666" stroke-width="1"/>
<circle cx="593.3" cy="19.9" r="2.2" fill="#fff" stroke="#111" stroke-width="0.9"/>
<line x1="580.4" y1="33.6" x2="605.7" y2="33.6" stroke="#ee3535" stroke-width="2"/>
<text x="608.5" y="23.6" font-family='"Liberation Serif", serif' font-size="12.3" textLength="44.6" lengthAdjust="spacingAndGlyphs">Test curve</text>
<text x="608.5" y="37" font-family='"Liberation Serif", serif' font-size="12.3" textLength="54.7" lengthAdjust="spacingAndGlyphs">Fitting curve</text>
<text class="cap" x="462.2" y="283.7" font-family='"Liberation Serif", serif' font-size="22" textLength="164" lengthAdjust="spacingAndGlyphs">(b) B-PRCAC-5.0</text>
<rect x="40.5" y="316.4" width="274.4" height="211.8" fill="none" stroke="#555" stroke-width="1.2"/>
<line x1="95.38" y1="528.2" x2="95.38" y2="525.2" stroke="#333" stroke-width="1.1"/>
<line x1="150.26" y1="528.2" x2="150.26" y2="525.2" stroke="#333" stroke-width="1.1"/>
<line x1="205.14" y1="528.2" x2="205.14" y2="525.2" stroke="#333" stroke-width="1.1"/>
<line x1="260.02" y1="528.2" x2="260.02" y2="525.2" stroke="#333" stroke-width="1.1"/>
<line x1="40.5" y1="504.67" x2="43.5" y2="504.67" stroke="#333" stroke-width="1.1"/>
<line x1="40.5" y1="481.13" x2="43.5" y2="481.13" stroke="#333" stroke-width="1.1"/>
<line x1="40.5" y1="457.6" x2="43.5" y2="457.6" stroke="#333" stroke-width="1.1"/>
<line x1="40.5" y1="434.07" x2="43.5" y2="434.07" stroke="#333" stroke-width="1.1"/>
<line x1="40.5" y1="410.53" x2="43.5" y2="410.53" stroke="#333" stroke-width="1.1"/>
<line x1="40.5" y1="387" x2="43.5" y2="387" stroke="#333" stroke-width="1.1"/>
<line x1="40.5" y1="363.47" x2="43.5" y2="363.47" stroke="#333" stroke-width="1.1"/>
<line x1="40.5" y1="339.93" x2="43.5" y2="339.93" stroke="#333" stroke-width="1.1"/>
<text transform="translate(36.9,531.89) scale(0.95,1)" text-anchor="end" font-family='"Liberation Serif", serif' font-size="13.0">-10</text>
<text transform="translate(36.9,508.35) scale(0.95,1)" text-anchor="end" font-family='"Liberation Serif", serif' font-size="13.0">0</text>
<text transform="translate(36.9,484.82) scale(0.95,1)" text-anchor="end" font-family='"Liberation Serif", serif' font-size="13.0">10</text>
<text transform="translate(36.9,461.29) scale(0.95,1)" text-anchor="end" font-family='"Liberation Serif", serif' font-size="13.0">20</text>
<text transform="translate(36.9,437.75) scale(0.95,1)" text-anchor="end" font-family='"Liberation Serif", serif' font-size="13.0">30</text>
<text transform="translate(36.9,414.22) scale(0.95,1)" text-anchor="end" font-family='"Liberation Serif", serif' font-size="13.0">40</text>
<text transform="translate(36.9,390.69) scale(0.95,1)" text-anchor="end" font-family='"Liberation Serif", serif' font-size="13.0">50</text>
<text transform="translate(36.9,367.15) scale(0.95,1)" text-anchor="end" font-family='"Liberation Serif", serif' font-size="13.0">60</text>
<text transform="translate(36.9,343.62) scale(0.95,1)" text-anchor="end" font-family='"Liberation Serif", serif' font-size="13.0">70</text>
<text transform="translate(36.9,320.09) scale(0.95,1)" text-anchor="end" font-family='"Liberation Serif", serif' font-size="13.0">80</text>
<text transform="translate(40.5,541.6) scale(0.96,1)" text-anchor="middle" font-family='"Liberation Serif", serif' font-size="12.3">0.000</text>
<text transform="translate(95.38,541.6) scale(0.96,1)" text-anchor="middle" font-family='"Liberation Serif", serif' font-size="12.3">0.003</text>
<text transform="translate(150.26,541.6) scale(0.96,1)" text-anchor="middle" font-family='"Liberation Serif", serif' font-size="12.3">0.006</text>
<text transform="translate(205.14,541.6) scale(0.96,1)" text-anchor="middle" font-family='"Liberation Serif", serif' font-size="12.3">0.009</text>
<text transform="translate(260.02,541.6) scale(0.96,1)" text-anchor="middle" font-family='"Liberation Serif", serif' font-size="12.3">0.012</text>
<text transform="translate(314.9,541.6) scale(0.96,1)" text-anchor="middle" font-family='"Liberation Serif", serif' font-size="12.3">0.015</text>
<text transform="translate(173.7,557) scale(1.18,1)" font-family='"Liberation Serif", serif' font-style="italic" font-size="16">ε</text>
<text transform="translate(18.5,440.2) scale(0.95,1) rotate(-90)" textLength="41.4" lengthAdjust="spacing" xml:space="preserve"><tspan font-family='"Liberation Serif", serif' font-size="15.5" font-style="italic">σ</tspan><tspan font-family='"Liberation Serif", serif' font-size="11"> (MPa)</tspan></text>
<g fill="#fff" stroke="#111" stroke-width="0.95"><circle cx="40.7" cy="505.5" r="2.0"/><circle cx="40.8" cy="503.0" r="2.0"/><circle cx="40.9" cy="500.5" r="2.0"/><circle cx="41.0" cy="498.0" r="2.0"/><circle cx="41.1" cy="495.5" r="2.0"/><circle cx="41.2" cy="493.0" r="2.0"/><circle cx="41.3" cy="490.5" r="2.0"/><circle cx="41.4" cy="487.6" r="2.0"/><circle cx="42.9" cy="485.3" r="2.0"/><circle cx="44.3" cy="483.5" r="2.0"/><circle cx="45.8" cy="482.0" r="2.0"/><circle cx="47.3" cy="480.7" r="2.0"/><circle cx="48.7" cy="479.6" r="2.0"/><circle cx="50.2" cy="478.5" r="2.0"/><circle cx="51.6" cy="477.5" r="2.0"/><circle cx="53.1" cy="476.6" r="2.0"/><circle cx="54.6" cy="475.8" r="2.0"/><circle cx="56.1" cy="474.9" r="2.0"/><circle cx="57.6" cy="474.1" r="2.0"/><circle cx="59.1" cy="473.3" r="2.0"/><circle cx="60.6" cy="472.4" r="2.0"/><circle cx="62.0" cy="471.6" r="2.0"/><circle cx="63.5" cy="470.7" r="2.0"/><circle cx="65.0" cy="469.9" r="2.0"/><circle cx="66.5" cy="468.9" r="2.0"/><circle cx="68.0" cy="468.0" r="2.0"/><circle cx="69.4" cy="467.0" r="2.0"/><circle cx="70.9" cy="466.0" r="2.0"/><circle cx="72.3" cy="465.0" r="2.0"/><circle cx="73.8" cy="463.9" r="2.0"/><circle cx="75.3" cy="462.8" r="2.0"/><circle cx="76.8" cy="461.7" r="2.0"/><circle cx="78.2" cy="460.5" r="2.0"/><circle cx="79.7" cy="459.3" r="2.0"/><circle cx="81.2" cy="458.1" r="2.0"/><circle cx="82.6" cy="456.8" r="2.0"/><circle cx="84.1" cy="455.5" r="2.0"/><circle cx="85.6" cy="454.2" r="2.0"/><circle cx="87.0" cy="452.8" r="2.0"/><circle cx="88.5" cy="451.4" r="2.0"/><circle cx="90.0" cy="449.9" r="2.0"/><circle cx="91.4" cy="448.4" r="2.0"/><circle cx="92.9" cy="446.8" r="2.0"/><circle cx="94.4" cy="445.2" r="2.0"/><circle cx="95.8" cy="443.6" r="2.0"/><circle cx="97.3" cy="441.9" r="2.0"/><circle cx="98.8" cy="440.1" r="2.0"/><circle cx="100.3" cy="438.3" r="2.0"/><circle cx="101.7" cy="436.4" r="2.0"/><circle cx="103.2" cy="434.5" r="2.0"/><circle cx="104.6" cy="432.5" r="2.0"/><circle cx="106.1" cy="430.4" r="2.0"/><circle cx="107.6" cy="428.2" r="2.0"/><circle cx="109.0" cy="426.0" r="2.0"/><circle cx="110.5" cy="423.6" r="2.0"/><circle cx="112.0" cy="421.2" r="2.0"/><circle cx="113.4" cy="418.6" r="2.0"/><circle cx="114.9" cy="416.0" r="2.0"/><circle cx="116.3" cy="413.3" r="2.0"/><circle cx="117.6" cy="410.6" r="2.0"/><circle cx="119.0" cy="407.9" r="2.0"/><circle cx="120.2" cy="405.2" r="2.0"/><circle cx="121.5" cy="402.5" r="2.0"/><circle cx="122.7" cy="399.7" r="2.0"/><circle cx="123.9" cy="396.9" r="2.0"/><circle cx="125.1" cy="394.2" r="2.0"/><circle cx="126.2" cy="391.4" r="2.0"/><circle cx="127.4" cy="388.6" r="2.0"/><circle cx="128.5" cy="385.8" r="2.0"/><circle cx="129.7" cy="383.0" r="2.0"/><circle cx="130.8" cy="380.3" r="2.0"/><circle cx="132.0" cy="377.5" r="2.0"/><circle cx="133.2" cy="374.7" r="2.0"/><circle cx="134.4" cy="372.0" r="2.0"/><circle cx="135.6" cy="369.2" r="2.0"/><circle cx="136.8" cy="366.5" r="2.0"/><circle cx="138.1" cy="363.7" r="2.0"/><circle cx="139.5" cy="361.0" r="2.0"/><circle cx="140.9" cy="358.4" r="2.0"/><circle cx="142.4" cy="355.8" r="2.0"/><circle cx="143.8" cy="353.5" r="2.0"/><circle cx="145.3" cy="351.3" r="2.0"/><circle cx="146.8" cy="349.2" r="2.0"/><circle cx="148.2" cy="347.4" r="2.0"/><circle cx="149.7" cy="346.0" r="2.0"/><circle cx="151.1" cy="345.1" r="2.0"/><circle cx="152.6" cy="344.6" r="2.0"/><circle cx="154.1" cy="344.5" r="2.0"/><circle cx="155.6" cy="344.8" r="2.0"/><circle cx="157.0" cy="345.5" r="2.0"/><circle cx="158.0" cy="346.4" r="2.0"/><circle cx="159.3" cy="347.7" r="2.0"/><circle cx="160.6" cy="349.2" r="2.0"/><circle cx="162.3" cy="351.8" r="2.0"/><circle cx="163.8" cy="354.5" r="2.0"/><circle cx="165.3" cy="357.5" r="2.0"/><circle cx="166.4" cy="360.4" r="2.0"/><circle cx="167.9" cy="363.4" r="2.0"/><circle cx="169.0" cy="366.4" r="2.0"/><circle cx="169.8" cy="369.4" r="2.0"/><circle cx="171.2" cy="373.8" r="2.0"/><circle cx="172.4" cy="378.2" r="2.0"/><circle cx="173.4" cy="382.6" r="2.0"/><circle cx="174.6" cy="387.3" r="2.0"/><circle cx="175.8" cy="392.2" r="2.0"/><circle cx="177.2" cy="397.5" r="2.0"/><circle cx="178.6" cy="402.9" r="2.0"/><circle cx="179.7" cy="408.6" r="2.0"/><circle cx="180.5" cy="414.5" r="2.0"/><circle cx="181.4" cy="420.0" r="2.0"/><circle cx="182.3" cy="425.5" r="2.0"/><circle cx="183.0" cy="431.0" r="2.0"/><circle cx="183.5" cy="436.6" r="2.0"/><circle cx="184.2" cy="442.2" r="2.0"/><circle cx="184.9" cy="447.7" r="2.0"/><circle cx="185.5" cy="453.2" r="2.0"/><circle cx="186.0" cy="458.6" r="2.0"/><circle cx="186.3" cy="463.9" r="2.0"/><circle cx="186.7" cy="468.9" r="2.0"/><circle cx="187.1" cy="473.7" r="2.0"/><circle cx="187.3" cy="476.6" r="2.0"/><circle cx="187.3" cy="479.0" r="2.0"/></g>
<path d="M41.0 505.3 L40.9 504.6 L40.7 503.8 L40.6 503.0 L40.5 502.2 L40.5 501.4 L40.4 500.6 L40.4 499.8 L40.5 499.0 L40.6 498.2 L40.7 497.4 L40.8 496.6 L41.0 495.8 L41.2 495.0 L41.4 494.3 L41.7 493.5 L42.0 492.8 L42.3 492.0 L42.7 491.3 L43.0 490.6 L43.4 489.9 L43.8 489.2 L44.2 488.5 L44.7 487.8 L45.1 487.2 L45.6 486.5 L46.1 485.9 L46.6 485.2 L47.0 484.6 L47.5 484.0 L48.0 483.3 L48.6 482.7 L49.1 482.1 L49.6 481.5 L50.1 480.9 L50.6 480.2 L51.1 479.6 L51.6 479.0 L52.1 478.4 L52.6 477.8 L53.2 477.1 L53.7 476.5 L54.2 475.9 L54.7 475.3 L55.2 474.7 L55.7 474.0 L56.2 473.4 L56.7 472.8 L57.2 472.2 L57.7 471.5 L58.2 470.9 L58.7 470.3 L59.2 469.7 L59.7 469.0 L60.2 468.4 L60.7 467.8 L61.2 467.2 L61.7 466.5 L62.2 465.9 L62.8 465.3 L63.3 464.7 L63.8 464.0 L64.3 463.4 L64.8 462.8 L65.3 462.2 L65.8 461.5 L66.3 460.9 L66.8 460.3 L67.3 459.6 L67.8 459.0 L68.3 458.4 L68.8 457.8 L69.3 457.1 L69.8 456.5 L70.3 455.9 L70.8 455.3 L71.3 454.6 L71.8 454.0 L72.3 453.4 L72.8 452.8 L73.3 452.1 L73.8 451.5 L74.3 450.9 L74.8 450.2 L75.3 449.6 L75.8 449.0 L76.3 448.4 L76.8 447.7 L77.3 447.1 L77.8 446.5 L78.3 445.9 L78.8 445.2 L79.3 444.6 L79.8 444.0 L80.3 443.3 L80.8 442.7 L81.3 442.1 L81.8 441.5 L82.3 440.8 L82.8 440.2 L83.3 439.6 L83.8 438.9 L84.3 438.3 L84.8 437.7 L85.3 437.1 L85.8 436.4 L86.3 435.8 L86.8 435.2 L87.3 434.5 L87.8 433.9 L88.3 433.3 L88.7 432.6 L89.2 432.0 L89.7 431.4 L90.2 430.7 L90.7 430.1 L91.2 429.5 L91.7 428.8 L92.2 428.2 L92.7 427.6 L93.2 426.9 L93.7 426.3 L94.1 425.7 L94.6 425.0 L95.1 424.4 L95.6 423.7 L96.1 423.1 L96.6 422.5 L97.1 421.8 L97.6 421.2 L98.0 420.5 L98.5 419.9 L99.0 419.3 L99.5 418.6 L100.0 418.0 L100.4 417.3 L100.9 416.7 L101.4 416.0 L101.9 415.4 L102.4 414.7 L102.8 414.1 L103.3 413.5 L103.8 412.8 L104.2 412.2 L104.7 411.5 L105.2 410.9 L105.7 410.2 L106.1 409.6 L106.6 408.9 L107.1 408.3 L107.5 407.6 L108.0 406.9 L108.5 406.3 L108.9 405.6 L109.4 405.0 L109.9 404.3 L110.3 403.7 L110.8 403.0 L111.2 402.3 L111.7 401.7 L112.1 401.0 L112.6 400.4 L113.1 399.7 L113.5 399.0 L114.0 398.4 L114.4 397.7 L114.9 397.0 L115.3 396.4 L115.7 395.7 L116.2 395.0 L116.6 394.4 L117.1 393.7 L117.5 393.0 L118.0 392.4 L118.4 391.7 L118.8 391.0 L119.3 390.3 L119.7 389.7 L120.1 389.0 L120.6 388.3 L121.0 387.6 L121.4 387.0 L121.9 386.3 L122.3 385.6 L122.7 384.9 L123.1 384.2 L123.6 383.6 L124.0 382.9 L124.4 382.2 L124.8 381.5 L125.2 380.8 L125.6 380.1 L126.0 379.4 L126.5 378.7 L126.9 378.1 L127.3 377.4 L127.7 376.7 L128.1 376.0 L128.5 375.3 L128.9 374.6 L129.3 373.9 L129.7 373.2 L130.1 372.5 L130.5 371.8 L130.9 371.1 L131.3 370.4 L131.7 369.7 L132.1 369.0 L132.5 368.3 L132.9 367.6 L133.3 366.9 L133.7 366.3 L134.1 365.6 L134.5 364.9 L135.0 364.2 L135.4 363.5 L135.9 362.9 L136.3 362.2 L136.8 361.5 L137.2 360.9 L137.7 360.2 L138.2 359.6 L138.7 359.0 L139.2 358.3 L139.7 357.7 L140.2 357.1 L140.7 356.5 L141.3 355.9 L141.8 355.3 L142.4 354.8 L143.0 354.2 L143.6 353.7 L144.2 353.2 L144.9 352.8 L145.6 352.4 L146.4 352.1 L147.2 352.0 L148.0 352.1 L148.7 352.3 L149.5 352.6 L150.2 352.9 L150.9 353.3 L151.6 353.7 L152.3 354.1 L153.0 354.5 L153.6 355.0 L154.2 355.5 L154.8 356.1 L155.4 356.6 L156.0 357.2 L156.5 357.8 L157.1 358.4 L157.6 359.0 L158.1 359.6 L158.5 360.3 L159.0 360.9 L159.4 361.6 L159.9 362.3 L160.3 363.0 L160.7 363.7 L161.1 364.4 L161.5 365.1 L161.8 365.8 L162.2 366.5 L162.6 367.2 L162.9 367.9 L163.2 368.7 L163.6 369.4 L163.9 370.1 L164.2 370.9 L164.5 371.6 L164.8 372.3 L165.1 373.1 L165.4 373.8 L165.7 374.6 L166.0 375.3 L166.3 376.1 L166.6 376.8 L166.9 377.6 L167.2 378.3 L167.5 379.1 L167.8 379.8 L168.0 380.6 L168.3 381.3 L168.6 382.1 L168.9 382.8 L169.2 383.6 L169.4 384.3 L169.7 385.1 L170.0 385.8 L170.3 386.6 L170.5 387.3 L170.8 388.1 L171.1 388.9 L171.4 389.6 L171.6 390.4 L171.9 391.1 L172.2 391.9 L172.4 392.6 L172.7 393.4 L172.9 394.2 L173.2 394.9 L173.5 395.7 L173.7 396.4 L174.0 397.2 L174.2 398.0 L174.5 398.7 L174.7 399.5 L175.0 400.2 L175.2 401.0 L175.5 401.8 L175.7 402.5 L176.0 403.3 L176.2 404.1 L176.4 404.8 L176.7 405.6 L176.9 406.4 L177.2 407.1 L177.4 407.9 L177.6 408.7 L177.9 409.4 L178.1 410.2 L178.3 411.0 L178.6 411.7 L178.8 412.5 L179.0 413.3 L179.2 414.1 L179.5 414.8 L179.7 415.6 L179.9 416.4 L180.1 417.1 L180.3 417.9 L180.6 418.7 L180.8 419.5 L181.0 420.2 L181.2 421.0 L181.4 421.8 L181.6 422.6 L181.8 423.3 L182.0 424.1 L182.2 424.9 L182.4 425.7 L182.6 426.4 L182.8 427.2 L183.0 428.0 L183.2 428.8 L183.4 429.5 L183.6 430.3 L183.8 431.1 L184.0 431.9 L184.2 432.7 L184.4 433.4 L184.6 434.2 L184.8 435.0 L185.0 435.8 L185.1 436.6 L185.3 437.3 L185.5 438.1 L185.7 438.9 L185.9 439.7 L186.1 440.5 L186.2 441.3 L186.4 442.0 L186.6 442.8 L186.8 443.6 L186.9 444.4 L187.1 445.2 L187.3 446.0 L187.4 446.7 L187.6 447.5 L187.8 448.3 L187.9 449.1 L188.1 449.9 L188.3 450.7 L188.4 451.5 L188.6 452.2 L188.8 453.0 L188.9 453.8 L189.1 454.6 L189.2 455.4 L189.4 456.2 L189.5 457.0 L189.7 457.8 L189.9 458.5" fill="none" stroke="#ee3535" stroke-width="2.0" stroke-linejoin="round" stroke-linecap="butt"/>
<rect x="220.5" y="323.4" width="87.3" height="30" fill="#fff" stroke="#666" stroke-width="1"/>
<circle cx="234.4" cy="331.6" r="2.2" fill="#fff" stroke="#111" stroke-width="0.9"/>
<line x1="221.3" y1="345.2" x2="247.1" y2="345.2" stroke="#ee3535" stroke-width="2"/>
<text x="250.4" y="335.3" font-family='"Liberation Serif", serif' font-size="12.8" textLength="45.4" lengthAdjust="spacingAndGlyphs">Test curve</text>
<text x="250.4" y="349.4" font-family='"Liberation Serif", serif' font-size="12.8" textLength="56.3" lengthAdjust="spacingAndGlyphs">Fitting curve</text>
<text class="cap" x="90.8" y="595" font-family='"Liberation Serif", serif' font-size="22" textLength="163.1" lengthAdjust="spacingAndGlyphs">(c) C-PRCAC-5.0</text>
<rect x="394.05" y="318.3" width="272.45" height="210.2" fill="none" stroke="#555" stroke-width="1.2"/>
<line x1="448.54" y1="528.5" x2="448.54" y2="525.5" stroke="#333" stroke-width="1.1"/>
<line x1="503.03" y1="528.5" x2="503.03" y2="525.5" stroke="#333" stroke-width="1.1"/>
<line x1="557.52" y1="528.5" x2="557.52" y2="525.5" stroke="#333" stroke-width="1.1"/>
<line x1="612.01" y1="528.5" x2="612.01" y2="525.5" stroke="#333" stroke-width="1.1"/>
<line x1="394.05" y1="505.14" x2="397.05" y2="505.14" stroke="#333" stroke-width="1.1"/>
<line x1="394.05" y1="481.79" x2="397.05" y2="481.79" stroke="#333" stroke-width="1.1"/>
<line x1="394.05" y1="458.43" x2="397.05" y2="458.43" stroke="#333" stroke-width="1.1"/>
<line x1="394.05" y1="435.08" x2="397.05" y2="435.08" stroke="#333" stroke-width="1.1"/>
<line x1="394.05" y1="411.72" x2="397.05" y2="411.72" stroke="#333" stroke-width="1.1"/>
<line x1="394.05" y1="388.37" x2="397.05" y2="388.37" stroke="#333" stroke-width="1.1"/>
<line x1="394.05" y1="365.01" x2="397.05" y2="365.01" stroke="#333" stroke-width="1.1"/>
<line x1="394.05" y1="341.66" x2="397.05" y2="341.66" stroke="#333" stroke-width="1.1"/>
<text transform="translate(390.75,532.3) scale(0.91,1)" text-anchor="end" font-family='"Liberation Sans", sans-serif' font-size="12.7">-10</text>
<text transform="translate(390.75,508.94) scale(0.91,1)" text-anchor="end" font-family='"Liberation Sans", sans-serif' font-size="12.7">0</text>
<text transform="translate(390.75,485.58) scale(0.91,1)" text-anchor="end" font-family='"Liberation Sans", sans-serif' font-size="12.7">10</text>
<text transform="translate(390.75,462.23) scale(0.91,1)" text-anchor="end" font-family='"Liberation Sans", sans-serif' font-size="12.7">20</text>
<text transform="translate(390.75,438.87) scale(0.91,1)" text-anchor="end" font-family='"Liberation Sans", sans-serif' font-size="12.7">30</text>
<text transform="translate(390.75,415.52) scale(0.91,1)" text-anchor="end" font-family='"Liberation Sans", sans-serif' font-size="12.7">40</text>
<text transform="translate(390.75,392.16) scale(0.91,1)" text-anchor="end" font-family='"Liberation Sans", sans-serif' font-size="12.7">50</text>
<text transform="translate(390.75,368.81) scale(0.91,1)" text-anchor="end" font-family='"Liberation Sans", sans-serif' font-size="12.7">60</text>
<text transform="translate(390.75,345.45) scale(0.91,1)" text-anchor="end" font-family='"Liberation Sans", sans-serif' font-size="12.7">70</text>
<text transform="translate(390.75,322.1) scale(0.91,1)" text-anchor="end" font-family='"Liberation Sans", sans-serif' font-size="12.7">80</text>
<text transform="translate(394.05,542.4) scale(0.96,1)" text-anchor="middle" font-family='"Liberation Serif", serif' font-size="12.3">0.000</text>
<text transform="translate(448.54,542.4) scale(0.96,1)" text-anchor="middle" font-family='"Liberation Serif", serif' font-size="12.3">0.003</text>
<text transform="translate(503.03,542.4) scale(0.96,1)" text-anchor="middle" font-family='"Liberation Serif", serif' font-size="12.3">0.006</text>
<text transform="translate(557.52,542.4) scale(0.96,1)" text-anchor="middle" font-family='"Liberation Serif", serif' font-size="12.3">0.009</text>
<text transform="translate(612.01,542.4) scale(0.96,1)" text-anchor="middle" font-family='"Liberation Serif", serif' font-size="12.3">0.012</text>
<text transform="translate(666.5,542.4) scale(0.96,1)" text-anchor="middle" font-family='"Liberation Serif", serif' font-size="12.3">0.015</text>
<text transform="translate(525.8,557.3) scale(1.18,1)" font-family='"Liberation Serif", serif' font-style="italic" font-size="16">ε</text>
<text transform="translate(369.2,445.4) scale(0.91,1) rotate(-90)" textLength="44.9" lengthAdjust="spacing" xml:space="preserve"><tspan font-family='"Liberation Serif", serif' font-size="15.5" font-style="italic">σ</tspan><tspan font-family='"Liberation Serif", serif' font-size="15"> (</tspan><tspan font-family='"Liberation Serif", serif' font-size="12">MPa</tspan><tspan font-family='"Liberation Serif", serif' font-size="15">)</tspan></text>
<g fill="#fff" stroke="#111" stroke-width="0.95"><circle cx="395.2" cy="505.5" r="2.0"/><circle cx="395.4" cy="502.5" r="2.0"/><circle cx="395.4" cy="499.8" r="2.0"/><circle cx="395.7" cy="496.6" r="2.0"/><circle cx="396.2" cy="493.4" r="2.0"/><circle cx="396.8" cy="490.3" r="2.0"/><circle cx="397.5" cy="487.2" r="2.0"/><circle cx="398.4" cy="484.1" r="2.0"/><circle cx="399.4" cy="481.0" r="2.0"/><circle cx="400.6" cy="478.0" r="2.0"/><circle cx="401.9" cy="475.1" r="2.0"/><circle cx="403.3" cy="472.2" r="2.0"/><circle cx="404.8" cy="469.3" r="2.0"/><circle cx="406.4" cy="466.5" r="2.0"/><circle cx="408.1" cy="463.8" r="2.0"/><circle cx="409.9" cy="461.1" r="2.0"/><circle cx="411.8" cy="458.5" r="2.0"/><circle cx="413.7" cy="455.9" r="2.0"/><circle cx="415.7" cy="453.4" r="2.0"/><circle cx="417.8" cy="451.0" r="2.0"/><circle cx="420.0" cy="448.6" r="2.0"/><circle cx="422.1" cy="446.2" r="2.0"/><circle cx="424.4" cy="443.9" r="2.0"/><circle cx="426.6" cy="441.7" r="2.0"/><circle cx="428.8" cy="439.5" r="2.0"/><circle cx="431.0" cy="437.4" r="2.0"/><circle cx="433.2" cy="435.3" r="2.0"/><circle cx="435.5" cy="433.3" r="2.0"/><circle cx="437.7" cy="431.3" r="2.0"/><circle cx="439.9" cy="429.4" r="2.0"/><circle cx="442.1" cy="427.4" r="2.0"/><circle cx="444.4" cy="425.5" r="2.0"/><circle cx="446.6" cy="423.5" r="2.0"/><circle cx="448.8" cy="421.6" r="2.0"/><circle cx="451.0" cy="419.7" r="2.0"/><circle cx="453.2" cy="417.7" r="2.0"/><circle cx="455.5" cy="415.8" r="2.0"/><circle cx="457.7" cy="413.8" r="2.0"/><circle cx="459.9" cy="411.7" r="2.0"/><circle cx="460.2" cy="411.4" r="2.0"/><circle cx="462.2" cy="409.3" r="2.0"/><circle cx="464.2" cy="407.4" r="2.0"/><circle cx="466.3" cy="405.5" r="2.0"/><circle cx="468.3" cy="403.7" r="2.0"/><circle cx="470.3" cy="402.0" r="2.0"/><circle cx="472.4" cy="400.4" r="2.0"/><circle cx="474.4" cy="398.7" r="2.0"/><circle cx="476.4" cy="397.2" r="2.0"/><circle cx="478.4" cy="395.6" r="2.0"/><circle cx="480.4" cy="394.0" r="2.0"/><circle cx="482.4" cy="392.4" r="2.0"/><circle cx="484.5" cy="390.8" r="2.0"/><circle cx="486.5" cy="389.1" r="2.0"/><circle cx="488.5" cy="387.4" r="2.0"/><circle cx="490.5" cy="385.7" r="2.0"/><circle cx="492.6" cy="383.9" r="2.0"/><circle cx="494.6" cy="382.1" r="2.0"/><circle cx="496.6" cy="380.3" r="2.0"/><circle cx="498.6" cy="378.6" r="2.0"/><circle cx="500.7" cy="376.9" r="2.0"/><circle cx="502.7" cy="375.2" r="2.0"/><circle cx="504.7" cy="373.6" r="2.0"/><circle cx="506.7" cy="372.2" r="2.0"/><circle cx="508.8" cy="370.8" r="2.0"/><circle cx="510.8" cy="369.5" r="2.0"/><circle cx="512.8" cy="368.3" r="2.0"/><circle cx="514.8" cy="367.3" r="2.0"/><circle cx="516.8" cy="366.3" r="2.0"/><circle cx="518.8" cy="365.5" r="2.0"/><circle cx="520.9" cy="364.8" r="2.0"/><circle cx="522.9" cy="364.3" r="2.0"/><circle cx="524.9" cy="363.8" r="2.0"/><circle cx="526.9" cy="363.4" r="2.0"/><circle cx="529.0" cy="363.2" r="2.0"/><circle cx="531.0" cy="363.1" r="2.0"/><circle cx="533.0" cy="363.1" r="2.0"/><circle cx="535.0" cy="363.2" r="2.0"/><circle cx="537.0" cy="363.4" r="2.0"/><circle cx="539.1" cy="363.6" r="2.0"/><circle cx="541.1" cy="364.0" r="2.0"/><circle cx="543.1" cy="364.4" r="2.0"/><circle cx="545.1" cy="364.8" r="2.0"/><circle cx="547.1" cy="365.3" r="2.0"/><circle cx="549.2" cy="365.8" r="2.0"/><circle cx="551.2" cy="366.3" r="2.0"/><circle cx="553.2" cy="366.9" r="2.0"/><circle cx="555.2" cy="367.5" r="2.0"/><circle cx="557.3" cy="368.1" r="2.0"/><circle cx="559.3" cy="368.7" r="2.0"/><circle cx="561.3" cy="369.3" r="2.0"/><circle cx="563.3" cy="369.9" r="2.0"/><circle cx="565.3" cy="370.5" r="2.0"/><circle cx="567.3" cy="371.1" r="2.0"/><circle cx="569.4" cy="371.7" r="2.0"/><circle cx="571.4" cy="372.3" r="2.0"/><circle cx="573.4" cy="372.9" r="2.0"/><circle cx="575.4" cy="373.4" r="2.0"/><circle cx="577.5" cy="374.0" r="2.0"/><circle cx="579.5" cy="374.6" r="2.0"/><circle cx="581.5" cy="375.2" r="2.0"/><circle cx="583.5" cy="375.8" r="2.0"/><circle cx="585.6" cy="376.4" r="2.0"/><circle cx="587.6" cy="377.0" r="2.0"/><circle cx="589.6" cy="377.6" r="2.0"/><circle cx="591.6" cy="378.3" r="2.0"/><circle cx="593.6" cy="379.0" r="2.0"/><circle cx="595.6" cy="379.7" r="2.0"/><circle cx="597.7" cy="380.5" r="2.0"/><circle cx="599.7" cy="381.2" r="2.0"/><circle cx="601.7" cy="382.1" r="2.0"/><circle cx="603.7" cy="383.0" r="2.0"/><circle cx="605.8" cy="383.9" r="2.0"/><circle cx="607.8" cy="384.9" r="2.0"/><circle cx="609.8" cy="386.0" r="2.0"/><circle cx="611.8" cy="387.2" r="2.0"/><circle cx="613.8" cy="388.4" r="2.0"/><circle cx="615.8" cy="389.8" r="2.0"/><circle cx="617.9" cy="391.2" r="2.0"/><circle cx="619.9" cy="392.8" r="2.0"/><circle cx="621.9" cy="394.6" r="2.0"/><circle cx="623.9" cy="396.4" r="2.0"/><circle cx="625.9" cy="398.5" r="2.0"/><circle cx="627.9" cy="400.8" r="2.0"/><circle cx="629.9" cy="403.2" r="2.0"/><circle cx="631.9" cy="405.8" r="2.0"/><circle cx="634.0" cy="408.7" r="2.0"/><circle cx="636.0" cy="411.8" r="2.0"/><circle cx="638.0" cy="415.2" r="2.0"/><circle cx="639.9" cy="418.8" r="2.0"/><circle cx="641.7" cy="422.4" r="2.0"/><circle cx="643.3" cy="426.0" r="2.0"/><circle cx="644.8" cy="429.7" r="2.0"/><circle cx="646.9" cy="435.5" r="2.0"/><circle cx="648.3" cy="440.0" r="2.0"/><circle cx="649.3" cy="444.6" r="2.0"/><circle cx="650.0" cy="449.3" r="2.0"/><circle cx="650.7" cy="453.9" r="2.0"/><circle cx="651.2" cy="458.8" r="2.0"/><circle cx="651.5" cy="463.9" r="2.0"/><circle cx="651.6" cy="469.0" r="2.0"/><circle cx="651.8" cy="474.8" r="2.0"/></g>
<path d="M394.4 487.5 L394.9 487.0 L395.5 486.4 L396.0 485.8 L396.6 485.2 L397.1 484.6 L397.6 484.0 L398.2 483.4 L398.7 482.8 L399.3 482.2 L399.8 481.6 L400.4 481.0 L400.9 480.4 L401.5 479.8 L402.0 479.3 L402.5 478.7 L403.1 478.1 L403.6 477.5 L404.2 476.9 L404.7 476.3 L405.3 475.7 L405.8 475.2 L406.4 474.6 L406.9 474.0 L407.5 473.4 L408.0 472.8 L408.6 472.2 L409.1 471.7 L409.7 471.1 L410.3 470.5 L410.8 469.9 L411.4 469.3 L411.9 468.7 L412.5 468.2 L413.0 467.6 L413.6 467.0 L414.1 466.4 L414.7 465.8 L415.2 465.3 L415.8 464.7 L416.4 464.1 L416.9 463.5 L417.5 462.9 L418.0 462.4 L418.6 461.8 L419.1 461.2 L419.7 460.6 L420.3 460.1 L420.8 459.5 L421.4 458.9 L421.9 458.3 L422.5 457.7 L423.0 457.2 L423.6 456.6 L424.1 456.0 L424.7 455.4 L425.3 454.9 L425.8 454.3 L426.4 453.7 L426.9 453.1 L427.5 452.5 L428.0 452.0 L428.6 451.4 L429.2 450.8 L429.7 450.2 L430.3 449.6 L430.8 449.1 L431.4 448.5 L431.9 447.9 L432.5 447.3 L433.1 446.8 L433.6 446.2 L434.2 445.6 L434.7 445.0 L435.3 444.4 L435.8 443.8 L436.4 443.3 L436.9 442.7 L437.5 442.1 L438.0 441.5 L438.6 440.9 L439.1 440.4 L439.7 439.8 L440.2 439.2 L440.8 438.6 L441.4 438.0 L441.9 437.4 L442.5 436.9 L443.0 436.3 L443.5 435.7 L444.1 435.1 L444.6 434.5 L445.2 433.9 L445.7 433.3 L446.3 432.7 L446.8 432.2 L447.4 431.6 L447.9 431.0 L448.5 430.4 L449.0 429.8 L449.6 429.2 L450.1 428.6 L450.6 428.0 L451.2 427.4 L451.7 426.8 L452.3 426.2 L452.8 425.6 L453.3 425.0 L453.9 424.4 L454.4 423.9 L454.9 423.3 L455.5 422.7 L456.0 422.1 L456.5 421.5 L457.1 420.9 L457.6 420.3 L458.1 419.7 L458.7 419.0 L459.2 418.4 L459.7 417.8 L460.3 417.2 L460.8 416.6 L461.3 416.0 L461.8 415.4 L462.4 414.8 L462.9 414.2 L463.4 413.6 L463.9 413.0 L464.4 412.4 L465.0 411.8 L465.5 411.2 L466.0 410.5 L466.5 409.9 L467.1 409.3 L467.6 408.7 L468.1 408.1 L468.6 407.5 L469.1 406.9 L469.7 406.3 L470.2 405.7 L470.7 405.1 L471.2 404.5 L471.8 403.8 L472.3 403.2 L472.8 402.6 L473.4 402.0 L473.9 401.4 L474.4 400.8 L474.9 400.2 L475.5 399.6 L476.0 399.0 L476.5 398.4 L477.1 397.8 L477.6 397.2 L478.1 396.6 L478.7 396.0 L479.2 395.4 L479.8 394.8 L480.3 394.2 L480.9 393.7 L481.4 393.1 L481.9 392.5 L482.5 391.9 L483.0 391.3 L483.6 390.7 L484.2 390.2 L484.7 389.6 L485.3 389.0 L485.8 388.4 L486.4 387.9 L487.0 387.3 L487.5 386.7 L488.1 386.2 L488.7 385.6 L489.3 385.0 L489.8 384.5 L490.4 383.9 L491.0 383.4 L491.6 382.8 L492.2 382.3 L492.8 381.7 L493.3 381.2 L493.9 380.6 L494.5 380.1 L495.1 379.6 L495.7 379.0 L496.3 378.5 L497.0 378.0 L497.6 377.5 L498.2 377.0 L498.8 376.4 L499.4 375.9 L500.0 375.4 L500.7 374.9 L501.3 374.4 L501.9 373.9 L502.6 373.5 L503.2 373.0 L503.9 372.5 L504.5 372.0 L505.2 371.6 L505.8 371.1 L506.5 370.6 L507.1 370.2 L507.8 369.7 L508.5 369.3 L509.2 368.9 L509.8 368.4 L510.5 368.0 L511.2 367.6 L511.9 367.2 L512.6 366.8 L513.3 366.4 L514.0 366.0 L514.7 365.7 L515.4 365.3 L516.2 364.9 L516.9 364.6 L517.6 364.3 L518.4 363.9 L519.1 363.6 L519.8 363.3 L520.6 363.0 L521.3 362.7 L522.1 362.5 L522.8 362.2 L523.6 361.9 L524.4 361.7 L525.1 361.5 L525.9 361.3 L526.7 361.1 L527.5 360.9 L528.3 360.7 L529.0 360.5 L529.8 360.4 L530.6 360.2 L531.4 360.1 L532.2 360.0 L533.0 359.9 L533.8 359.8 L534.6 359.7 L535.4 359.7 L536.2 359.6 L537.0 359.5 L537.8 359.5 L538.6 359.5 L539.4 359.5 L540.2 359.5 L541.0 359.5 L541.8 359.5 L542.6 359.5 L543.4 359.6 L544.2 359.6 L545.0 359.7 L545.8 359.8 L546.6 359.8 L547.4 359.9 L548.2 360.0 L549.0 360.1 L549.8 360.2 L550.6 360.4 L551.4 360.5 L552.2 360.6 L553.0 360.8 L553.8 361.0 L554.5 361.1 L555.3 361.3 L556.1 361.5 L556.9 361.7 L557.7 361.9 L558.4 362.1 L559.2 362.3 L560.0 362.5 L560.7 362.8 L561.5 363.0 L562.3 363.3 L563.0 363.5 L563.8 363.8 L564.6 364.0 L565.3 364.3 L566.1 364.6 L566.8 364.9 L567.6 365.2 L568.3 365.5 L569.0 365.8 L569.8 366.1 L570.5 366.4 L571.3 366.7 L572.0 367.1 L572.7 367.4 L573.4 367.7 L574.2 368.1 L574.9 368.4 L575.6 368.8 L576.3 369.2 L577.0 369.5 L577.7 369.9 L578.4 370.3 L579.1 370.7 L579.8 371.1 L580.5 371.5 L581.2 371.9 L581.9 372.3 L582.6 372.7 L583.3 373.1 L584.0 373.6 L584.6 374.0 L585.3 374.4 L586.0 374.9 L586.7 375.3 L587.3 375.8 L588.0 376.2 L588.6 376.7 L589.3 377.2 L589.9 377.6 L590.6 378.1 L591.2 378.6 L591.9 379.1 L592.5 379.6 L593.1 380.1 L593.8 380.6 L594.4 381.1 L595.0 381.6 L595.6 382.1 L596.2 382.6 L596.8 383.2 L597.4 383.7 L598.0 384.2 L598.6 384.7 L599.2 385.3 L599.8 385.8 L600.4 386.4 L601.0 386.9 L601.6 387.5 L602.2 388.0 L602.8 388.6 L603.3 389.1 L603.9 389.7 L604.5 390.3 L605.1 390.8 L605.6 391.4 L606.2 392.0 L606.8 392.5 L607.3 393.1 L607.9 393.7 L608.4 394.3 L609.0 394.8 L609.6 395.4 L610.1 396.0 L610.7 396.6 L611.2 397.1 L611.8 397.7 L612.3 398.3 L612.9 398.9 L613.4 399.5 L614.0 400.1 L614.5 400.6 L615.1 401.2 L615.6 401.8 L616.2 402.4 L616.7 403.0 L617.3 403.5 L617.9 404.1 L618.4 404.7 L619.0 405.3 L619.5 405.9 L620.1 406.4 L620.6 407.0 L621.2 407.6 L621.8 408.2 L622.3 408.7 L622.9 409.3 L623.5 409.9 L624.0 410.4 L624.6 411.0 L625.2 411.6 L625.7 412.1 L626.3 412.7 L626.9 413.3 L627.5 413.8 L628.0 414.4 L628.6 414.9 L629.2 415.5 L629.8 416.1 L630.3 416.6 L630.9 417.2 L631.5 417.7 L632.1 418.3 L632.7 418.8 L633.2 419.4 L633.8 420.0 L634.4 420.5 L635.0 421.1 L635.6 421.6 L636.2 422.2 L636.7 422.7 L637.3 423.3 L637.9 423.8 L638.5 424.4 L639.1 424.9 L639.7 425.5 L640.2 426.0 L640.8 426.6 L641.4 427.1 L642.0 427.7 L642.6 428.2 L643.2 428.8 L643.8 429.3 L644.3 429.9 L644.9 430.4 L645.5 431.0 L646.1 431.5 L646.7 432.1 L647.3 432.6 L647.8 433.2 L648.4 433.7 L649.0 434.3 L649.6 434.8 L650.2 435.4 L650.8 435.9 L651.3 436.5 L651.9 437.0 L652.5 437.6" fill="none" stroke="#ee3535" stroke-width="2.0" stroke-linejoin="round" stroke-linecap="butt"/>
<rect x="567.9" y="322.7" width="92.8" height="31.5" fill="#fff" stroke="#666" stroke-width="1"/>
<circle cx="582.7" cy="331.3" r="2.2" fill="#fff" stroke="#111" stroke-width="0.9"/>
<line x1="568.7" y1="345.7" x2="596.4" y2="345.7" stroke="#ee3535" stroke-width="2"/>
<text x="599.1" y="335.2" font-family='"Liberation Serif", serif' font-size="13.2" textLength="49.4" lengthAdjust="spacingAndGlyphs">Test curve</text>
<text x="599.1" y="350.3" font-family='"Liberation Serif", serif' font-size="13.2" textLength="59.4" lengthAdjust="spacingAndGlyphs">Fitting curve</text>
<text class="cap" x="449" y="595" font-family='"Liberation Serif", serif' font-size="22" textLength="177.2" lengthAdjust="spacingAndGlyphs">(d) A-PRCAC-12.0</text>
<rect x="33.35" y="627.1" width="275.1" height="226.3" fill="none" stroke="#555" stroke-width="1.2"/>
<line x1="88.37" y1="853.4" x2="88.37" y2="850.4" stroke="#333" stroke-width="1.1"/>
<line x1="143.39" y1="853.4" x2="143.39" y2="850.4" stroke="#333" stroke-width="1.1"/>
<line x1="198.41" y1="853.4" x2="198.41" y2="850.4" stroke="#333" stroke-width="1.1"/>
<line x1="253.43" y1="853.4" x2="253.43" y2="850.4" stroke="#333" stroke-width="1.1"/>
<line x1="33.35" y1="828.26" x2="36.35" y2="828.26" stroke="#333" stroke-width="1.1"/>
<line x1="33.35" y1="803.11" x2="36.35" y2="803.11" stroke="#333" stroke-width="1.1"/>
<line x1="33.35" y1="777.97" x2="36.35" y2="777.97" stroke="#333" stroke-width="1.1"/>
<line x1="33.35" y1="752.82" x2="36.35" y2="752.82" stroke="#333" stroke-width="1.1"/>
<line x1="33.35" y1="727.68" x2="36.35" y2="727.68" stroke="#333" stroke-width="1.1"/>
<line x1="33.35" y1="702.53" x2="36.35" y2="702.53" stroke="#333" stroke-width="1.1"/>
<line x1="33.35" y1="677.39" x2="36.35" y2="677.39" stroke="#333" stroke-width="1.1"/>
<line x1="33.35" y1="652.24" x2="36.35" y2="652.24" stroke="#333" stroke-width="1.1"/>
<text transform="translate(29.75,857.42) scale(0.88,1)" text-anchor="end" font-family='"Liberation Serif", serif' font-size="14.0">-10</text>
<text transform="translate(29.75,832.28) scale(0.88,1)" text-anchor="end" font-family='"Liberation Serif", serif' font-size="14.0">0</text>
<text transform="translate(29.75,807.14) scale(0.88,1)" text-anchor="end" font-family='"Liberation Serif", serif' font-size="14.0">10</text>
<text transform="translate(29.75,781.99) scale(0.88,1)" text-anchor="end" font-family='"Liberation Serif", serif' font-size="14.0">20</text>
<text transform="translate(29.75,756.85) scale(0.88,1)" text-anchor="end" font-family='"Liberation Serif", serif' font-size="14.0">30</text>
<text transform="translate(29.75,731.7) scale(0.88,1)" text-anchor="end" font-family='"Liberation Serif", serif' font-size="14.0">40</text>
<text transform="translate(29.75,706.56) scale(0.88,1)" text-anchor="end" font-family='"Liberation Serif", serif' font-size="14.0">50</text>
<text transform="translate(29.75,681.41) scale(0.88,1)" text-anchor="end" font-family='"Liberation Serif", serif' font-size="14.0">60</text>
<text transform="translate(29.75,656.27) scale(0.88,1)" text-anchor="end" font-family='"Liberation Serif", serif' font-size="14.0">70</text>
<text transform="translate(29.75,631.12) scale(0.88,1)" text-anchor="end" font-family='"Liberation Serif", serif' font-size="14.0">80</text>
<text transform="translate(33.35,868) scale(0.92,1)" text-anchor="middle" font-family='"Liberation Serif", serif' font-size="13.0">0.000</text>
<text transform="translate(88.37,868) scale(0.92,1)" text-anchor="middle" font-family='"Liberation Serif", serif' font-size="13.0">0.003</text>
<text transform="translate(143.39,868) scale(0.92,1)" text-anchor="middle" font-family='"Liberation Serif", serif' font-size="13.0">0.006</text>
<text transform="translate(198.41,868) scale(0.92,1)" text-anchor="middle" font-family='"Liberation Serif", serif' font-size="13.0">0.009</text>
<text transform="translate(253.43,868) scale(0.92,1)" text-anchor="middle" font-family='"Liberation Serif", serif' font-size="13.0">0.012</text>
<text transform="translate(308.45,868) scale(0.92,1)" text-anchor="middle" font-family='"Liberation Serif", serif' font-size="13.0">0.015</text>
<text transform="translate(167.8,885.8) scale(1.18,1)" font-family='"Liberation Serif", serif' font-style="italic" font-size="16">ε</text>
<text transform="translate(8.9,762.2) scale(0.88,1) rotate(-90)" textLength="45.4" lengthAdjust="spacing" xml:space="preserve"><tspan font-family='"Liberation Serif", serif' font-size="15.5" font-style="italic">σ</tspan><tspan font-family='"Liberation Serif", serif' font-size="12.8"> (MPa)</tspan></text>
<g fill="#fff" stroke="#111" stroke-width="0.95"><circle cx="33.9" cy="832.0" r="2.0"/><circle cx="34.0" cy="829.5" r="2.0"/><circle cx="34.1" cy="827.0" r="2.0"/><circle cx="34.2" cy="824.5" r="2.0"/><circle cx="34.3" cy="822.0" r="2.0"/><circle cx="34.5" cy="819.5" r="2.0"/><circle cx="34.7" cy="817.0" r="2.0"/><circle cx="36.5" cy="812.5" r="2.0"/><circle cx="38.3" cy="810.1" r="2.0"/><circle cx="40.1" cy="808.2" r="2.0"/><circle cx="41.9" cy="806.5" r="2.0"/><circle cx="43.8" cy="804.9" r="2.0"/><circle cx="45.6" cy="803.3" r="2.0"/><circle cx="47.4" cy="801.5" r="2.0"/><circle cx="49.2" cy="799.7" r="2.0"/><circle cx="51.0" cy="797.9" r="2.0"/><circle cx="52.9" cy="795.9" r="2.0"/><circle cx="54.7" cy="793.9" r="2.0"/><circle cx="56.5" cy="791.9" r="2.0"/><circle cx="58.3" cy="789.7" r="2.0"/><circle cx="60.1" cy="787.5" r="2.0"/><circle cx="61.9" cy="785.2" r="2.0"/><circle cx="63.8" cy="782.8" r="2.0"/><circle cx="65.6" cy="780.4" r="2.0"/><circle cx="67.4" cy="777.9" r="2.0"/><circle cx="69.2" cy="775.3" r="2.0"/><circle cx="71.0" cy="772.6" r="2.0"/><circle cx="72.9" cy="769.9" r="2.0"/><circle cx="74.7" cy="767.2" r="2.0"/><circle cx="76.5" cy="764.3" r="2.0"/><circle cx="78.3" cy="761.4" r="2.0"/><circle cx="80.1" cy="758.6" r="2.0"/><circle cx="81.9" cy="755.6" r="2.0"/><circle cx="83.7" cy="752.7" r="2.0"/><circle cx="85.5" cy="749.7" r="2.0"/><circle cx="87.4" cy="746.7" r="2.0"/><circle cx="89.2" cy="743.7" r="2.0"/><circle cx="91.0" cy="740.7" r="2.0"/><circle cx="92.8" cy="737.8" r="2.0"/><circle cx="94.6" cy="734.8" r="2.0"/><circle cx="96.4" cy="731.9" r="2.0"/><circle cx="98.2" cy="729.0" r="2.0"/><circle cx="100.1" cy="726.2" r="2.0"/><circle cx="101.9" cy="723.3" r="2.0"/><circle cx="103.7" cy="720.5" r="2.0"/><circle cx="105.5" cy="717.7" r="2.0"/><circle cx="107.3" cy="714.8" r="2.0"/><circle cx="109.1" cy="712.0" r="2.0"/><circle cx="110.9" cy="709.2" r="2.0"/><circle cx="112.7" cy="706.3" r="2.0"/><circle cx="114.6" cy="703.5" r="2.0"/><circle cx="116.4" cy="700.7" r="2.0"/><circle cx="118.2" cy="697.9" r="2.0"/><circle cx="120.0" cy="695.0" r="2.0"/><circle cx="121.8" cy="692.1" r="2.0"/><circle cx="123.6" cy="689.3" r="2.0"/><circle cx="125.4" cy="686.4" r="2.0"/><circle cx="127.2" cy="683.6" r="2.0"/><circle cx="129.1" cy="681.0" r="2.0"/><circle cx="130.9" cy="678.6" r="2.0"/><circle cx="132.7" cy="676.4" r="2.0"/><circle cx="134.5" cy="674.5" r="2.0"/><circle cx="136.3" cy="672.9" r="2.0"/><circle cx="138.1" cy="671.5" r="2.0"/><circle cx="139.9" cy="670.3" r="2.0"/><circle cx="141.7" cy="669.3" r="2.0"/><circle cx="143.6" cy="668.5" r="2.0"/><circle cx="145.4" cy="667.8" r="2.0"/><circle cx="147.2" cy="667.3" r="2.0"/><circle cx="149.1" cy="667.0" r="2.0"/><circle cx="149.7" cy="666.6" r="2.0"/><circle cx="151.9" cy="667.2" r="2.0"/><circle cx="154.1" cy="668.0" r="2.0"/><circle cx="156.1" cy="669.0" r="2.0"/><circle cx="158.0" cy="670.3" r="2.0"/><circle cx="159.9" cy="671.7" r="2.0"/><circle cx="161.5" cy="673.3" r="2.0"/><circle cx="163.1" cy="675.0" r="2.0"/><circle cx="164.6" cy="676.7" r="2.0"/><circle cx="165.9" cy="678.6" r="2.0"/><circle cx="167.3" cy="680.5" r="2.0"/><circle cx="168.5" cy="682.4" r="2.0"/><circle cx="169.8" cy="684.3" r="2.0"/><circle cx="171.0" cy="686.3" r="2.0"/><circle cx="172.1" cy="688.3" r="2.0"/><circle cx="173.3" cy="690.3" r="2.0"/><circle cx="174.4" cy="692.3" r="2.0"/><circle cx="175.5" cy="694.3" r="2.0"/><circle cx="176.6" cy="696.3" r="2.0"/><circle cx="177.7" cy="698.3" r="2.0"/><circle cx="178.7" cy="700.4" r="2.0"/><circle cx="179.8" cy="702.4" r="2.0"/><circle cx="180.9" cy="704.5" r="2.0"/><circle cx="181.9" cy="706.5" r="2.0"/><circle cx="183.0" cy="708.5" r="2.0"/><circle cx="184.1" cy="710.5" r="2.0"/><circle cx="185.2" cy="712.6" r="2.0"/><circle cx="186.3" cy="714.6" r="2.0"/><circle cx="187.4" cy="716.6" r="2.0"/><circle cx="188.5" cy="718.6" r="2.0"/><circle cx="189.6" cy="720.6" r="2.0"/><circle cx="190.7" cy="722.7" r="2.0"/><circle cx="191.9" cy="724.7" r="2.0"/><circle cx="193.0" cy="726.7" r="2.0"/><circle cx="194.1" cy="728.7" r="2.0"/><circle cx="195.1" cy="730.7" r="2.0"/><circle cx="196.2" cy="732.8" r="2.0"/><circle cx="197.3" cy="734.8" r="2.0"/><circle cx="198.4" cy="736.8" r="2.0"/><circle cx="199.4" cy="738.9" r="2.0"/><circle cx="200.4" cy="740.9" r="2.0"/><circle cx="201.5" cy="743.0" r="2.0"/><circle cx="202.5" cy="745.1" r="2.0"/><circle cx="203.4" cy="747.2" r="2.0"/><circle cx="204.4" cy="749.3" r="2.0"/><circle cx="205.3" cy="751.4" r="2.0"/><circle cx="206.2" cy="753.5" r="2.0"/><circle cx="207.1" cy="755.6" r="2.0"/><circle cx="208.0" cy="757.7" r="2.0"/><circle cx="208.8" cy="759.9" r="2.0"/><circle cx="209.6" cy="762.0" r="2.0"/><circle cx="210.3" cy="764.2" r="2.0"/><circle cx="211.0" cy="766.4" r="2.0"/><circle cx="211.7" cy="768.6" r="2.0"/><circle cx="212.4" cy="770.8" r="2.0"/><circle cx="213.0" cy="773.0" r="2.0"/><circle cx="214.7" cy="778.1" r="2.0"/><circle cx="216.2" cy="782.4" r="2.0"/><circle cx="217.5" cy="786.7" r="2.0"/><circle cx="219.0" cy="790.9" r="2.0"/><circle cx="220.3" cy="795.6" r="2.0"/><circle cx="221.3" cy="800.3" r="2.0"/><circle cx="222.4" cy="805.5" r="2.0"/><circle cx="223.4" cy="811.0" r="2.0"/><circle cx="224.4" cy="816.2" r="2.0"/><circle cx="225.4" cy="820.9" r="2.0"/><circle cx="226.4" cy="824.3" r="2.0"/><circle cx="226.8" cy="827.1" r="2.0"/></g>
<path d="M33.5 834.9 L33.8 834.2 L34.2 833.5 L34.6 832.8 L35.0 832.1 L35.4 831.4 L35.8 830.7 L36.2 830.0 L36.6 829.3 L36.9 828.6 L37.3 827.9 L37.7 827.2 L38.1 826.5 L38.5 825.8 L38.9 825.1 L39.2 824.3 L39.6 823.6 L40.0 822.9 L40.4 822.2 L40.7 821.5 L41.1 820.8 L41.5 820.1 L41.9 819.4 L42.3 818.7 L42.6 818.0 L43.0 817.3 L43.4 816.5 L43.7 815.8 L44.1 815.1 L44.5 814.4 L44.9 813.7 L45.2 813.0 L45.6 812.3 L46.0 811.6 L46.4 810.9 L46.7 810.1 L47.1 809.4 L47.5 808.7 L47.8 808.0 L48.2 807.3 L48.6 806.6 L48.9 805.9 L49.3 805.1 L49.7 804.4 L50.0 803.7 L50.4 803.0 L50.8 802.3 L51.1 801.6 L51.5 800.9 L51.9 800.1 L52.2 799.4 L52.6 798.7 L53.0 798.0 L53.3 797.3 L53.7 796.6 L54.1 795.9 L54.4 795.1 L54.8 794.4 L55.2 793.7 L55.5 793.0 L55.9 792.3 L56.3 791.6 L56.6 790.8 L57.0 790.1 L57.4 789.4 L57.7 788.7 L58.1 788.0 L58.4 787.3 L58.8 786.6 L59.2 785.8 L59.5 785.1 L59.9 784.4 L60.3 783.7 L60.6 783.0 L61.0 782.3 L61.4 781.6 L61.7 780.8 L62.1 780.1 L62.5 779.4 L62.8 778.7 L63.2 778.0 L63.6 777.3 L63.9 776.5 L64.3 775.8 L64.7 775.1 L65.0 774.4 L65.4 773.7 L65.8 773.0 L66.1 772.3 L66.5 771.5 L66.9 770.8 L67.2 770.1 L67.6 769.4 L68.0 768.7 L68.4 768.0 L68.7 767.3 L69.1 766.6 L69.5 765.8 L69.8 765.1 L70.2 764.4 L70.6 763.7 L71.0 763.0 L71.3 762.3 L71.7 761.6 L72.1 760.9 L72.5 760.2 L72.8 759.5 L73.2 758.7 L73.6 758.0 L74.0 757.3 L74.3 756.6 L74.7 755.9 L75.1 755.2 L75.5 754.5 L75.9 753.8 L76.2 753.1 L76.6 752.4 L77.0 751.7 L77.4 751.0 L77.8 750.3 L78.1 749.5 L78.5 748.8 L78.9 748.1 L79.3 747.4 L79.7 746.7 L80.1 746.0 L80.5 745.3 L80.9 744.6 L81.3 743.9 L81.7 743.2 L82.1 742.5 L82.5 741.8 L82.9 741.1 L83.3 740.4 L83.7 739.7 L84.1 739.1 L84.5 738.4 L84.9 737.7 L85.3 737.0 L85.7 736.3 L86.1 735.6 L86.5 734.9 L86.9 734.2 L87.3 733.5 L87.8 732.8 L88.2 732.2 L88.6 731.5 L89.0 730.8 L89.4 730.1 L89.9 729.4 L90.3 728.7 L90.7 728.1 L91.2 727.4 L91.6 726.7 L92.0 726.0 L92.5 725.4 L92.9 724.7 L93.3 724.0 L93.8 723.4 L94.2 722.7 L94.7 722.0 L95.1 721.4 L95.6 720.7 L96.0 720.0 L96.5 719.4 L97.0 718.7 L97.4 718.0 L97.9 717.4 L98.3 716.7 L98.8 716.1 L99.3 715.4 L99.7 714.8 L100.2 714.1 L100.7 713.5 L101.2 712.8 L101.7 712.2 L102.1 711.6 L102.6 710.9 L103.1 710.3 L103.6 709.6 L104.1 709.0 L104.6 708.4 L105.1 707.7 L105.6 707.1 L106.1 706.5 L106.6 705.9 L107.1 705.2 L107.6 704.6 L108.1 704.0 L108.6 703.4 L109.1 702.8 L109.6 702.1 L110.2 701.5 L110.7 700.9 L111.2 700.3 L111.7 699.7 L112.3 699.1 L112.8 698.5 L113.3 697.9 L113.9 697.3 L114.4 696.7 L115.0 696.1 L115.5 695.5 L116.1 695.0 L116.6 694.4 L117.2 693.8 L117.8 693.2 L118.3 692.7 L118.9 692.1 L119.5 691.6 L120.1 691.0 L120.7 690.5 L121.3 690.0 L121.9 689.4 L122.5 688.9 L123.1 688.4 L123.8 687.9 L124.4 687.4 L125.1 687.0 L125.7 686.5 L126.4 686.0 L127.0 685.6 L127.7 685.2 L128.4 684.8 L129.1 684.4 L129.8 684.0 L130.5 683.6 L131.3 683.3 L132.0 683.0 L132.7 682.6 L133.5 682.4 L134.3 682.1 L135.0 681.9 L135.8 681.7 L136.6 681.5 L137.4 681.3 L138.2 681.2 L139.0 681.1 L139.8 681.1 L140.6 681.0 L141.4 681.0 L142.2 681.0 L143.0 681.1 L143.8 681.2 L144.6 681.3 L145.4 681.4 L146.1 681.6 L146.9 681.7 L147.7 681.9 L148.5 682.1 L149.2 682.4 L150.0 682.6 L150.8 682.9 L151.5 683.2 L152.3 683.5 L153.0 683.8 L153.7 684.2 L154.4 684.5 L155.1 684.9 L155.8 685.3 L156.5 685.7 L157.2 686.1 L157.9 686.5 L158.6 687.0 L159.2 687.4 L159.9 687.9 L160.5 688.4 L161.2 688.9 L161.8 689.4 L162.4 689.9 L163.0 690.4 L163.6 691.0 L164.2 691.5 L164.8 692.1 L165.4 692.6 L165.9 693.2 L166.5 693.8 L167.0 694.4 L167.6 694.9 L168.1 695.5 L168.6 696.2 L169.2 696.8 L169.7 697.4 L170.2 698.0 L170.7 698.6 L171.2 699.3 L171.7 699.9 L172.2 700.5 L172.6 701.2 L173.1 701.8 L173.6 702.5 L174.0 703.1 L174.5 703.8 L175.0 704.5 L175.4 705.1 L175.9 705.8 L176.3 706.4 L176.8 707.1 L177.2 707.8 L177.7 708.5 L178.1 709.1 L178.5 709.8 L179.0 710.5 L179.4 711.1 L179.8 711.8 L180.3 712.5 L180.7 713.2 L181.1 713.8 L181.6 714.5 L182.0 715.2 L182.4 715.9 L182.9 716.6 L183.3 717.2 L183.7 717.9 L184.2 718.6 L184.6 719.3 L185.0 719.9 L185.5 720.6 L185.9 721.3 L186.3 722.0 L186.7 722.7 L187.2 723.3 L187.6 724.0 L188.0 724.7 L188.4 725.4 L188.9 726.1 L189.3 726.7 L189.7 727.4 L190.1 728.1 L190.6 728.8 L191.0 729.5 L191.4 730.2 L191.8 730.8 L192.3 731.5 L192.7 732.2 L193.1 732.9 L193.5 733.6 L194.0 734.2 L194.4 734.9 L194.8 735.6 L195.2 736.3 L195.6 737.0 L196.1 737.7 L196.5 738.4 L196.9 739.0 L197.3 739.7 L197.7 740.4 L198.2 741.1 L198.6 741.8 L199.0 742.5 L199.4 743.2 L199.8 743.8 L200.2 744.5 L200.7 745.2 L201.1 745.9 L201.5 746.6 L201.9 747.3 L202.3 748.0 L202.7 748.6 L203.2 749.3 L203.6 750.0 L204.0 750.7 L204.4 751.4 L204.8 752.1 L205.2 752.8 L205.7 753.4 L206.1 754.1 L206.5 754.8 L206.9 755.5 L207.3 756.2 L207.7 756.9 L208.2 757.6 L208.6 758.3 L209.0 758.9 L209.4 759.6 L209.8 760.3 L210.2 761.0 L210.7 761.7 L211.1 762.4 L211.5 763.1 L211.9 763.7 L212.3 764.4 L212.7 765.1 L213.2 765.8 L213.6 766.5 L214.0 767.2 L214.4 767.9 L214.8 768.5 L215.2 769.2 L215.7 769.9 L216.1 770.6 L216.5 771.3 L216.9 772.0 L217.3 772.7 L217.8 773.3 L218.2 774.0 L218.6 774.7 L219.0 775.4 L219.4 776.1 L219.9 776.8 L220.3 777.5 L220.7 778.1 L221.1 778.8 L221.5 779.5 L222.0 780.2 L222.4 780.9 L222.8 781.6 L223.2 782.2 L223.7 782.9 L224.1 783.6 L224.5 784.3 L224.9 785.0 L225.3 785.6 L225.8 786.3 L226.2 787.0 L226.6 787.7 L227.0 788.4 L227.5 789.1" fill="none" stroke="#ee3535" stroke-width="2.0" stroke-linejoin="round" stroke-linecap="butt"/>
<rect x="214.4" y="642.4" width="87.1" height="32.1" fill="#fff" stroke="#666" stroke-width="1"/>
<circle cx="228.1" cy="650.7" r="2.2" fill="#fff" stroke="#111" stroke-width="0.9"/>
<line x1="215.2" y1="665.5" x2="240.8" y2="665.5" stroke="#ee3535" stroke-width="2"/>
<text x="244" y="654.6" font-family='"Liberation Serif", serif' font-size="12.8" textLength="46.1" lengthAdjust="spacingAndGlyphs">Test curve</text>
<text x="244" y="669.2" font-family='"Liberation Serif", serif' font-size="12.8" textLength="56.3" lengthAdjust="spacingAndGlyphs">Fitting curve</text>
<text class="cap" x="83.1" y="929.5" font-family='"Liberation Serif", serif' font-size="22" textLength="176" lengthAdjust="spacingAndGlyphs">(e) B-PRCAC-12.0</text>
<rect x="389.6" y="627.3" width="282.3" height="223.6" fill="none" stroke="#555" stroke-width="1.2"/>
<line x1="446.06" y1="850.9" x2="446.06" y2="847.9" stroke="#333" stroke-width="1.1"/>
<line x1="502.52" y1="850.9" x2="502.52" y2="847.9" stroke="#333" stroke-width="1.1"/>
<line x1="558.98" y1="850.9" x2="558.98" y2="847.9" stroke="#333" stroke-width="1.1"/>
<line x1="615.44" y1="850.9" x2="615.44" y2="847.9" stroke="#333" stroke-width="1.1"/>
<line x1="389.6" y1="826.06" x2="392.6" y2="826.06" stroke="#333" stroke-width="1.1"/>
<line x1="389.6" y1="801.21" x2="392.6" y2="801.21" stroke="#333" stroke-width="1.1"/>
<line x1="389.6" y1="776.37" x2="392.6" y2="776.37" stroke="#333" stroke-width="1.1"/>
<line x1="389.6" y1="751.52" x2="392.6" y2="751.52" stroke="#333" stroke-width="1.1"/>
<line x1="389.6" y1="726.68" x2="392.6" y2="726.68" stroke="#333" stroke-width="1.1"/>
<line x1="389.6" y1="701.83" x2="392.6" y2="701.83" stroke="#333" stroke-width="1.1"/>
<line x1="389.6" y1="676.99" x2="392.6" y2="676.99" stroke="#333" stroke-width="1.1"/>
<line x1="389.6" y1="652.14" x2="392.6" y2="652.14" stroke="#333" stroke-width="1.1"/>
<text transform="translate(385.8,854.72) scale(0.965,1)" text-anchor="end" font-family='"Liberation Serif", serif' font-size="13.4">-10</text>
<text transform="translate(385.8,829.88) scale(0.965,1)" text-anchor="end" font-family='"Liberation Serif", serif' font-size="13.4">0</text>
<text transform="translate(385.8,805.03) scale(0.965,1)" text-anchor="end" font-family='"Liberation Serif", serif' font-size="13.4">10</text>
<text transform="translate(385.8,780.19) scale(0.965,1)" text-anchor="end" font-family='"Liberation Serif", serif' font-size="13.4">20</text>
<text transform="translate(385.8,755.34) scale(0.965,1)" text-anchor="end" font-family='"Liberation Serif", serif' font-size="13.4">30</text>
<text transform="translate(385.8,730.5) scale(0.965,1)" text-anchor="end" font-family='"Liberation Serif", serif' font-size="13.4">40</text>
<text transform="translate(385.8,705.66) scale(0.965,1)" text-anchor="end" font-family='"Liberation Serif", serif' font-size="13.4">50</text>
<text transform="translate(385.8,680.81) scale(0.965,1)" text-anchor="end" font-family='"Liberation Serif", serif' font-size="13.4">60</text>
<text transform="translate(385.8,655.97) scale(0.965,1)" text-anchor="end" font-family='"Liberation Serif", serif' font-size="13.4">70</text>
<text transform="translate(385.8,631.12) scale(0.965,1)" text-anchor="end" font-family='"Liberation Serif", serif' font-size="13.4">80</text>
<text transform="translate(389.6,865.3) scale(0.9,1)" text-anchor="middle" font-family='"Liberation Serif", serif' font-size="13.6">0.000</text>
<text transform="translate(446.06,865.3) scale(0.9,1)" text-anchor="middle" font-family='"Liberation Serif", serif' font-size="13.6">0.003</text>
<text transform="translate(502.52,865.3) scale(0.9,1)" text-anchor="middle" font-family='"Liberation Serif", serif' font-size="13.6">0.006</text>
<text transform="translate(558.98,865.3) scale(0.9,1)" text-anchor="middle" font-family='"Liberation Serif", serif' font-size="13.6">0.009</text>
<text transform="translate(615.44,865.3) scale(0.9,1)" text-anchor="middle" font-family='"Liberation Serif", serif' font-size="13.6">0.012</text>
<text transform="translate(671.9,865.3) scale(0.9,1)" text-anchor="middle" font-family='"Liberation Serif", serif' font-size="13.6">0.015</text>
<text transform="translate(519.6,882.9) scale(1.18,1)" font-family='"Liberation Serif", serif' font-style="italic" font-size="16">ε</text>
<text transform="translate(364.6,760.8) scale(0.965,1) rotate(-90)" textLength="44.9" lengthAdjust="spacing" xml:space="preserve"><tspan font-family='"Liberation Serif", serif' font-size="15.5" font-style="italic">σ</tspan><tspan font-family='"Liberation Serif", serif' font-size="12.4"> (MPa)</tspan></text>
<g fill="#fff" stroke="#111" stroke-width="0.95"><circle cx="390.3" cy="826.5" r="2.0"/><circle cx="390.3" cy="824.0" r="2.0"/><circle cx="390.1" cy="820.8" r="2.0"/><circle cx="391.1" cy="818.5" r="2.0"/><circle cx="392.0" cy="816.2" r="2.0"/><circle cx="393.0" cy="813.9" r="2.0"/><circle cx="394.0" cy="811.6" r="2.0"/><circle cx="395.0" cy="809.3" r="2.0"/><circle cx="396.0" cy="807.0" r="2.0"/><circle cx="397.0" cy="804.7" r="2.0"/><circle cx="398.0" cy="802.4" r="2.0"/><circle cx="399.0" cy="800.2" r="2.0"/><circle cx="400.0" cy="797.9" r="2.0"/><circle cx="401.0" cy="795.6" r="2.0"/><circle cx="402.0" cy="793.3" r="2.0"/><circle cx="403.1" cy="791.0" r="2.0"/><circle cx="404.1" cy="788.7" r="2.0"/><circle cx="405.1" cy="786.5" r="2.0"/><circle cx="406.1" cy="784.2" r="2.0"/><circle cx="407.1" cy="781.9" r="2.0"/><circle cx="408.1" cy="779.6" r="2.0"/><circle cx="409.1" cy="777.3" r="2.0"/><circle cx="410.1" cy="775.0" r="2.0"/><circle cx="411.1" cy="772.7" r="2.0"/><circle cx="412.1" cy="770.4" r="2.0"/><circle cx="413.1" cy="768.1" r="2.0"/><circle cx="414.1" cy="765.8" r="2.0"/><circle cx="415.1" cy="763.5" r="2.0"/><circle cx="416.0" cy="761.2" r="2.0"/><circle cx="417.0" cy="758.9" r="2.0"/><circle cx="418.0" cy="756.6" r="2.0"/><circle cx="419.0" cy="754.3" r="2.0"/><circle cx="420.0" cy="752.0" r="2.0"/><circle cx="421.0" cy="749.7" r="2.0"/><circle cx="422.0" cy="747.4" r="2.0"/><circle cx="423.0" cy="745.2" r="2.0"/><circle cx="424.0" cy="742.9" r="2.0"/><circle cx="425.0" cy="740.6" r="2.0"/><circle cx="426.1" cy="738.3" r="2.0"/><circle cx="427.1" cy="736.1" r="2.0"/><circle cx="428.2" cy="733.8" r="2.0"/><circle cx="429.3" cy="731.5" r="2.0"/><circle cx="430.4" cy="729.3" r="2.0"/><circle cx="431.5" cy="727.1" r="2.0"/><circle cx="432.6" cy="724.8" r="2.0"/><circle cx="433.8" cy="722.6" r="2.0"/><circle cx="434.9" cy="720.4" r="2.0"/><circle cx="436.1" cy="718.2" r="2.0"/><circle cx="437.4" cy="716.0" r="2.0"/><circle cx="438.6" cy="713.9" r="2.0"/><circle cx="439.9" cy="711.7" r="2.0"/><circle cx="441.1" cy="709.6" r="2.0"/><circle cx="442.5" cy="707.4" r="2.0"/><circle cx="443.8" cy="705.3" r="2.0"/><circle cx="445.2" cy="703.2" r="2.0"/><circle cx="446.6" cy="701.2" r="2.0"/><circle cx="446.8" cy="701.4" r="2.0"/><circle cx="448.6" cy="699.2" r="2.0"/><circle cx="450.4" cy="696.9" r="2.0"/><circle cx="452.2" cy="694.7" r="2.0"/><circle cx="454.0" cy="692.5" r="2.0"/><circle cx="455.9" cy="690.5" r="2.0"/><circle cx="457.7" cy="688.7" r="2.0"/><circle cx="459.5" cy="687.0" r="2.0"/><circle cx="461.3" cy="685.5" r="2.0"/><circle cx="463.1" cy="684.1" r="2.0"/><circle cx="465.0" cy="682.8" r="2.0"/><circle cx="466.8" cy="681.7" r="2.0"/><circle cx="468.6" cy="680.6" r="2.0"/><circle cx="470.4" cy="679.5" r="2.0"/><circle cx="472.2" cy="678.5" r="2.0"/><circle cx="474.1" cy="677.6" r="2.0"/><circle cx="475.9" cy="676.7" r="2.0"/><circle cx="477.7" cy="675.8" r="2.0"/><circle cx="479.5" cy="675.0" r="2.0"/><circle cx="481.4" cy="674.1" r="2.0"/><circle cx="483.2" cy="673.4" r="2.0"/><circle cx="485.0" cy="672.6" r="2.0"/><circle cx="486.8" cy="671.9" r="2.0"/><circle cx="488.6" cy="671.1" r="2.0"/><circle cx="490.5" cy="670.4" r="2.0"/><circle cx="492.3" cy="669.7" r="2.0"/><circle cx="494.1" cy="668.9" r="2.0"/><circle cx="495.9" cy="668.2" r="2.0"/><circle cx="497.8" cy="667.5" r="2.0"/><circle cx="499.6" cy="666.7" r="2.0"/><circle cx="501.4" cy="666.0" r="2.0"/><circle cx="503.3" cy="665.3" r="2.0"/><circle cx="505.1" cy="664.7" r="2.0"/><circle cx="506.9" cy="664.1" r="2.0"/><circle cx="508.8" cy="663.6" r="2.0"/><circle cx="510.6" cy="663.2" r="2.0"/><circle cx="512.4" cy="662.8" r="2.0"/><circle cx="512.5" cy="663.0" r="2.0"/><circle cx="514.7" cy="663.1" r="2.0"/><circle cx="516.8" cy="663.6" r="2.0"/><circle cx="518.9" cy="664.4" r="2.0"/><circle cx="520.8" cy="665.5" r="2.0"/><circle cx="522.5" cy="666.9" r="2.0"/><circle cx="523.9" cy="668.6" r="2.0"/><circle cx="527.0" cy="673.0" r="2.0"/><circle cx="529.4" cy="676.4" r="2.0"/><circle cx="531.6" cy="679.8" r="2.0"/><circle cx="533.6" cy="683.2" r="2.0"/><circle cx="535.5" cy="686.6" r="2.0"/><circle cx="537.3" cy="690.0" r="2.0"/><circle cx="539.0" cy="693.4" r="2.0"/><circle cx="540.6" cy="696.9" r="2.0"/><circle cx="542.1" cy="700.4" r="2.0"/><circle cx="543.5" cy="704.0" r="2.0"/><circle cx="544.8" cy="707.6" r="2.0"/><circle cx="546.1" cy="711.6" r="2.0"/><circle cx="547.4" cy="716.0" r="2.0"/><circle cx="548.8" cy="720.5" r="2.0"/><circle cx="550.0" cy="725.2" r="2.0"/><circle cx="551.0" cy="729.7" r="2.0"/><circle cx="552.0" cy="734.2" r="2.0"/><circle cx="553.0" cy="739.0" r="2.0"/><circle cx="553.6" cy="744.1" r="2.0"/><circle cx="554.2" cy="749.2" r="2.0"/><circle cx="554.9" cy="754.4" r="2.0"/><circle cx="555.5" cy="759.5" r="2.0"/><circle cx="556.0" cy="765.5" r="2.0"/><circle cx="556.3" cy="771.0" r="2.0"/><circle cx="556.9" cy="776.3" r="2.0"/><circle cx="557.2" cy="781.9" r="2.0"/><circle cx="557.8" cy="787.9" r="2.0"/><circle cx="558.0" cy="793.8" r="2.0"/><circle cx="558.4" cy="799.9" r="2.0"/><circle cx="558.6" cy="805.8" r="2.0"/><circle cx="558.8" cy="812.0" r="2.0"/><circle cx="559.2" cy="818.2" r="2.0"/><circle cx="559.5" cy="824.7" r="2.0"/></g>
<path d="M390.0 823.3 L390.3 822.5 L390.7 821.8 L391.0 821.1 L391.3 820.3 L391.6 819.6 L392.0 818.9 L392.3 818.1 L392.6 817.4 L392.9 816.7 L393.3 815.9 L393.6 815.2 L393.9 814.5 L394.2 813.7 L394.6 813.0 L394.9 812.3 L395.2 811.5 L395.5 810.8 L395.9 810.1 L396.2 809.3 L396.5 808.6 L396.8 807.9 L397.2 807.1 L397.5 806.4 L397.8 805.7 L398.2 804.9 L398.5 804.2 L398.8 803.5 L399.1 802.7 L399.5 802.0 L399.8 801.3 L400.1 800.6 L400.5 799.8 L400.8 799.1 L401.1 798.4 L401.4 797.6 L401.8 796.9 L402.1 796.2 L402.4 795.4 L402.8 794.7 L403.1 794.0 L403.4 793.2 L403.8 792.5 L404.1 791.8 L404.4 791.0 L404.8 790.3 L405.1 789.6 L405.4 788.9 L405.8 788.1 L406.1 787.4 L406.4 786.7 L406.8 785.9 L407.1 785.2 L407.4 784.5 L407.8 783.7 L408.1 783.0 L408.4 782.3 L408.8 781.6 L409.1 780.8 L409.4 780.1 L409.8 779.4 L410.1 778.6 L410.4 777.9 L410.8 777.2 L411.1 776.5 L411.4 775.7 L411.8 775.0 L412.1 774.3 L412.5 773.5 L412.8 772.8 L413.1 772.1 L413.5 771.4 L413.8 770.6 L414.2 769.9 L414.5 769.2 L414.8 768.5 L415.2 767.7 L415.5 767.0 L415.9 766.3 L416.2 765.5 L416.5 764.8 L416.9 764.1 L417.2 763.4 L417.6 762.6 L417.9 761.9 L418.3 761.2 L418.6 760.5 L418.9 759.7 L419.3 759.0 L419.6 758.3 L420.0 757.6 L420.3 756.8 L420.7 756.1 L421.0 755.4 L421.4 754.7 L421.7 754.0 L422.1 753.2 L422.4 752.5 L422.8 751.8 L423.1 751.1 L423.5 750.3 L423.8 749.6 L424.2 748.9 L424.5 748.2 L424.9 747.5 L425.2 746.7 L425.6 746.0 L425.9 745.3 L426.3 744.6 L426.6 743.8 L427.0 743.1 L427.3 742.4 L427.7 741.7 L428.0 741.0 L428.4 740.2 L428.8 739.5 L429.1 738.8 L429.5 738.1 L429.8 737.4 L430.2 736.7 L430.5 735.9 L430.9 735.2 L431.3 734.5 L431.6 733.8 L432.0 733.1 L432.3 732.4 L432.7 731.6 L433.1 730.9 L433.4 730.2 L433.8 729.5 L434.2 728.8 L434.5 728.1 L434.9 727.3 L435.3 726.6 L435.6 725.9 L436.0 725.2 L436.4 724.5 L436.7 723.8 L437.1 723.1 L437.5 722.4 L437.8 721.6 L438.2 720.9 L438.6 720.2 L439.0 719.5 L439.3 718.8 L439.7 718.1 L440.1 717.4 L440.5 716.7 L440.8 716.0 L441.2 715.3 L441.6 714.5 L442.0 713.8 L442.4 713.1 L442.7 712.4 L443.1 711.7 L443.5 711.0 L443.9 710.3 L444.3 709.6 L444.7 708.9 L445.1 708.2 L445.4 707.5 L445.8 706.8 L446.2 706.1 L446.6 705.4 L447.0 704.7 L447.4 704.0 L447.8 703.3 L448.2 702.6 L448.6 701.9 L449.0 701.2 L449.4 700.5 L449.8 699.8 L450.2 699.1 L450.6 698.5 L451.0 697.8 L451.4 697.1 L451.8 696.4 L452.3 695.7 L452.7 695.0 L453.1 694.3 L453.5 693.6 L453.9 692.9 L454.3 692.3 L454.8 691.6 L455.2 690.9 L455.6 690.2 L456.0 689.5 L456.5 688.8 L456.9 688.2 L457.3 687.5 L457.7 686.8 L458.2 686.1 L458.6 685.5 L459.0 684.8 L459.5 684.1 L459.9 683.4 L460.3 682.8 L460.8 682.1 L461.2 681.4 L461.7 680.8 L462.1 680.1 L462.6 679.4 L463.0 678.8 L463.5 678.1 L464.0 677.5 L464.4 676.8 L464.9 676.2 L465.4 675.5 L465.9 674.9 L466.4 674.3 L466.9 673.7 L467.4 673.0 L467.9 672.4 L468.5 671.8 L469.0 671.2 L469.6 670.7 L470.1 670.1 L470.7 669.5 L471.3 669.0 L471.9 668.4 L472.5 667.9 L473.1 667.4 L473.7 666.9 L474.4 666.4 L475.0 666.0 L475.7 665.5 L476.4 665.1 L477.1 664.7 L477.8 664.3 L478.5 663.9 L479.2 663.6 L480.0 663.3 L480.7 663.0 L481.5 662.7 L482.2 662.5 L483.0 662.3 L483.8 662.1 L484.6 661.9 L485.4 661.8 L486.2 661.7 L487.0 661.6 L487.8 661.5 L488.6 661.5 L489.4 661.5 L490.2 661.5 L491.0 661.5 L491.8 661.6 L492.6 661.7 L493.4 661.8 L494.1 662.0 L494.9 662.2 L495.7 662.3 L496.5 662.6 L497.2 662.8 L498.0 663.0 L498.8 663.3 L499.5 663.6 L500.3 663.9 L501.0 664.2 L501.7 664.6 L502.4 664.9 L503.1 665.3 L503.8 665.7 L504.5 666.1 L505.2 666.5 L505.9 667.0 L506.6 667.4 L507.2 667.9 L507.9 668.3 L508.5 668.8 L509.1 669.3 L509.8 669.8 L510.4 670.3 L511.0 670.9 L511.6 671.4 L512.2 672.0 L512.7 672.5 L513.3 673.1 L513.9 673.7 L514.4 674.2 L515.0 674.8 L515.5 675.4 L516.0 676.0 L516.5 676.6 L517.1 677.3 L517.6 677.9 L518.1 678.5 L518.6 679.1 L519.0 679.8 L519.5 680.4 L520.0 681.1 L520.5 681.7 L520.9 682.4 L521.4 683.0 L521.8 683.7 L522.3 684.4 L522.7 685.1 L523.1 685.7 L523.6 686.4 L524.0 687.1 L524.4 687.8 L524.8 688.5 L525.2 689.2 L525.6 689.8 L526.0 690.5 L526.4 691.2 L526.8 691.9 L527.2 692.6 L527.6 693.3 L528.0 694.0 L528.4 694.7 L528.8 695.5 L529.1 696.2 L529.5 696.9 L529.9 697.6 L530.2 698.3 L530.6 699.0 L531.0 699.7 L531.4 700.4 L531.7 701.1 L532.1 701.9 L532.4 702.6 L532.8 703.3 L533.2 704.0 L533.5 704.7 L533.9 705.4 L534.2 706.2 L534.6 706.9 L535.0 707.6 L535.3 708.3 L535.7 709.0 L536.0 709.8 L536.4 710.5 L536.7 711.2 L537.1 711.9 L537.4 712.6 L537.8 713.4 L538.1 714.1 L538.5 714.8 L538.9 715.5 L539.2 716.2 L539.6 717.0 L539.9 717.7 L540.3 718.4 L540.6 719.1 L541.0 719.9 L541.3 720.6 L541.7 721.3 L542.0 722.0 L542.4 722.7 L542.7 723.5 L543.1 724.2 L543.4 724.9 L543.8 725.6 L544.1 726.3 L544.5 727.1 L544.8 727.8 L545.2 728.5 L545.5 729.2 L545.9 729.9 L546.3 730.7 L546.6 731.4 L547.0 732.1 L547.3 732.8 L547.7 733.5 L548.0 734.3 L548.4 735.0 L548.8 735.7 L549.1 736.4 L549.5 737.1 L549.9 737.8 L550.2 738.5 L550.6 739.3 L551.0 740.0 L551.3 740.7 L551.7 741.4 L552.1 742.1 L552.5 742.8 L552.8 743.5 L553.2 744.2 L553.6 744.9 L554.0 745.6 L554.3 746.4 L554.7 747.1 L555.1 747.8 L555.5 748.5 L555.9 749.2 L556.3 749.9 L556.7 750.6 L557.0 751.3 L557.4 752.0 L557.8 752.7 L558.2 753.4 L558.6 754.1 L559.0 754.8 L559.4 755.5 L559.8 756.2" fill="none" stroke="#ee3535" stroke-width="2.0" stroke-linejoin="round" stroke-linecap="butt"/>
<rect x="573.6" y="635.2" width="90" height="31.5" fill="#fff" stroke="#666" stroke-width="1"/>
<circle cx="588" cy="644.1" r="2.2" fill="#fff" stroke="#111" stroke-width="0.9"/>
<line x1="574.5" y1="658.9" x2="601.5" y2="658.9" stroke="#ee3535" stroke-width="2"/>
<text x="604.4" y="647.7" font-family='"Liberation Serif", serif' font-size="12.8" textLength="46.7" lengthAdjust="spacingAndGlyphs">Test curve</text>
<text x="604.4" y="662.5" font-family='"Liberation Serif", serif' font-size="12.8" textLength="57.8" lengthAdjust="spacingAndGlyphs">Fitting curve</text>
<text class="cap" x="445" y="929.5" font-family='"Liberation Serif", serif' font-size="22" textLength="174.1" lengthAdjust="spacingAndGlyphs">(f) C-PRCAC-12.0</text>
</svg>
</body></html>
